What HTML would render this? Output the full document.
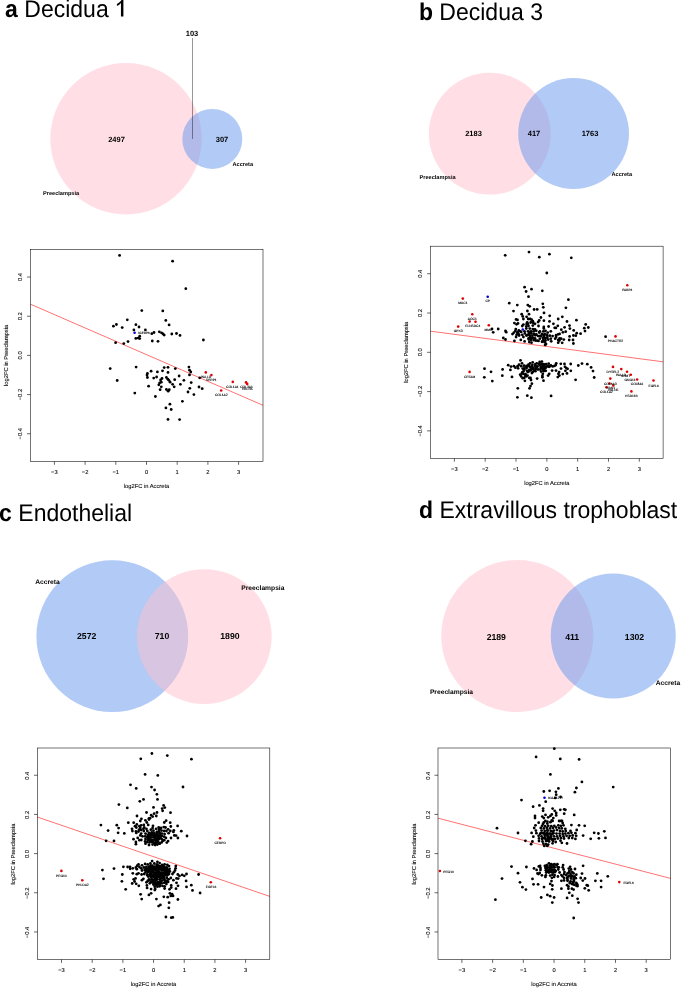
<!DOCTYPE html><html><head><meta charset="utf-8"><title>figure</title><style>
html,body{margin:0;padding:0;background:#fff}
svg{display:block;will-change:transform}
text{font-family:"Liberation Sans",sans-serif;fill:#000;text-rendering:geometricPrecision}
.t{font-size:23px}.tb{font-weight:bold}
.n{font-size:7.5px;font-weight:bold;text-anchor:middle}
.s{font-size:5.6px;font-weight:bold}.s2{font-size:6.7px;font-weight:bold}.n2{font-size:8.7px;font-weight:bold;text-anchor:middle}
.ax{font-size:5.75px;text-anchor:middle;stroke:#000;stroke-width:0.08px}
.g{font-size:3.3px;text-anchor:middle;stroke:#000;stroke-width:0.1px}
.fr{fill:none;stroke:#000;stroke-width:0.55}
.tk{stroke:#000;stroke-width:0.6}
.rl{stroke:#ff0000;stroke-width:0.56}
</style></head><body>
<svg width="685" height="995" viewBox="0 0 685 995">
<rect width="685" height="995" fill="#fff"/>
<text class="t" transform="translate(5.1,16.5) scale(1,1.045)"><tspan class="tb">a</tspan> Decidua</text>
<path d="M120.95,16.5 H123.4 V-1 H122 C121.3,1 118.8,3.2 116.9,3.9 V5.8 C118.5,5.3 120.2,4.0 120.95,2.9 Z" fill="#000"/>
<text class="t" transform="translate(418.9,19.9) scale(1,1.045)"><tspan class="tb">b</tspan> Decidua 3</text>
<text class="t" transform="translate(-0.9,520.8) scale(1,1.045)"><tspan class="tb">c</tspan> Endothelial</text>
<text class="t" transform="translate(419.0,517.6) scale(1,1.045)"><tspan class="tb">d</tspan> Extravillous trophoblast</text>
<circle cx="126" cy="138.8" r="75.7" fill="#ffc0cb" fill-opacity="0.5"/>
<circle cx="212.3" cy="138.9" r="30" fill="#6495ed" fill-opacity="0.5"/>
<line x1="192.5" y1="38" x2="192.5" y2="138.9" stroke="#000" stroke-opacity="0.75" stroke-width="0.55"/>
<text class="n" x="192" y="35.5">103</text>
<text class="n" x="116.5" y="141.5">2497</text>
<text class="n" x="222" y="141.5">307</text>
<text class="s" x="43" y="195.3">Preeclampsia</text>
<text class="s" x="232.5" y="166.2">Accreta</text>
<circle cx="489.75" cy="133.7" r="60.9" fill="#ffc0cb" fill-opacity="0.5"/>
<circle cx="573.6" cy="133.5" r="55.4" fill="#6495ed" fill-opacity="0.5"/>
<text class="n" x="473.5" y="136">2183</text>
<text class="n" x="534" y="136">417</text>
<text class="n" x="590" y="136">1763</text>
<text class="s" x="419.5" y="179">Preeclampsia</text>
<text class="s" x="611.5" y="176">Accreta</text>
<circle cx="112.3" cy="636.2" r="75.9" fill="#6495ed" fill-opacity="0.5"/>
<circle cx="204.3" cy="636.6" r="67.4" fill="#ffc0cb" fill-opacity="0.5"/>
<text class="n2" x="86.7" y="639.0">2572</text>
<text class="n2" x="162" y="639.0">710</text>
<text class="n2" x="229.9" y="639.0">1890</text>
<text class="s2" x="35.2" y="584.2">Accreta</text>
<text class="s2" x="241.3" y="589.5">Preeclampsia</text>
<circle cx="517.25" cy="636" r="76" fill="#ffc0cb" fill-opacity="0.5"/>
<circle cx="613.25" cy="636" r="62.5" fill="#6495ed" fill-opacity="0.5"/>
<text class="n2" x="496.3" y="639.6">2189</text>
<text class="n2" x="572.2" y="639.6">411</text>
<text class="n2" x="634.5" y="639.6">1302</text>
<text class="s2" x="429.9" y="694.2">Preeclampsia</text>
<text class="s2" x="655.7" y="685.1">Accreta</text>
<g id="plot-a">
<line class="rl" x1="30.50" y1="304.20" x2="263.00" y2="405.30"/>
<circle cx="119.6" cy="255.4" r="1.4" fill="#000"/>
<circle cx="172.6" cy="261.2" r="1.4" fill="#000"/>
<circle cx="185.8" cy="288.7" r="1.4" fill="#000"/>
<circle cx="141.8" cy="310.6" r="1.4" fill="#000"/>
<circle cx="162.8" cy="310.9" r="1.4" fill="#000"/>
<circle cx="127.3" cy="319.8" r="1.4" fill="#000"/>
<circle cx="165.8" cy="320.4" r="1.4" fill="#000"/>
<circle cx="116.4" cy="324.5" r="1.4" fill="#000"/>
<circle cx="135.9" cy="324.7" r="1.4" fill="#000"/>
<circle cx="169.1" cy="324.9" r="1.4" fill="#000"/>
<circle cx="113.4" cy="326.2" r="1.4" fill="#000"/>
<circle cx="139.0" cy="327.0" r="1.4" fill="#000"/>
<circle cx="122.2" cy="327.6" r="1.4" fill="#000"/>
<circle cx="133.9" cy="329.9" r="1.4" fill="#000"/>
<circle cx="145.4" cy="329.9" r="1.4" fill="#000"/>
<circle cx="159.3" cy="331.8" r="1.4" fill="#000"/>
<circle cx="161.5" cy="332.8" r="1.4" fill="#000"/>
<circle cx="154.0" cy="332.5" r="1.4" fill="#000"/>
<circle cx="151.8" cy="333.7" r="1.4" fill="#000"/>
<circle cx="163.1" cy="334.0" r="1.4" fill="#000"/>
<circle cx="164.2" cy="335.1" r="1.4" fill="#000"/>
<circle cx="171.8" cy="334.0" r="1.4" fill="#000"/>
<circle cx="176.5" cy="333.5" r="1.4" fill="#000"/>
<circle cx="180.0" cy="335.4" r="1.4" fill="#000"/>
<circle cx="139.7" cy="336.2" r="1.4" fill="#000"/>
<circle cx="135.8" cy="338.4" r="1.4" fill="#000"/>
<circle cx="138.2" cy="338.1" r="1.4" fill="#000"/>
<circle cx="139.7" cy="338.6" r="1.4" fill="#000"/>
<circle cx="152.3" cy="341.0" r="1.4" fill="#000"/>
<circle cx="158.0" cy="341.3" r="1.4" fill="#000"/>
<circle cx="128.0" cy="341.6" r="1.4" fill="#000"/>
<circle cx="115.6" cy="342.7" r="1.4" fill="#000"/>
<circle cx="123.8" cy="343.6" r="1.4" fill="#000"/>
<circle cx="110.2" cy="368.6" r="1.4" fill="#000"/>
<circle cx="136.1" cy="367.1" r="1.4" fill="#000"/>
<circle cx="117.2" cy="380.5" r="1.4" fill="#000"/>
<circle cx="164.2" cy="367.6" r="1.4" fill="#000"/>
<circle cx="168.0" cy="367.3" r="1.4" fill="#000"/>
<circle cx="175.3" cy="368.6" r="1.4" fill="#000"/>
<circle cx="188.9" cy="367.1" r="1.4" fill="#000"/>
<circle cx="189.5" cy="370.2" r="1.4" fill="#000"/>
<circle cx="190.8" cy="371.9" r="1.4" fill="#000"/>
<circle cx="189.5" cy="374.9" r="1.4" fill="#000"/>
<circle cx="151.1" cy="371.2" r="1.4" fill="#000"/>
<circle cx="157.4" cy="371.9" r="1.4" fill="#000"/>
<circle cx="162.5" cy="370.8" r="1.4" fill="#000"/>
<circle cx="168.0" cy="372.4" r="1.4" fill="#000"/>
<circle cx="147.4" cy="373.4" r="1.4" fill="#000"/>
<circle cx="147.0" cy="375.1" r="1.4" fill="#000"/>
<circle cx="147.4" cy="377.5" r="1.4" fill="#000"/>
<circle cx="153.7" cy="378.1" r="1.4" fill="#000"/>
<circle cx="156.6" cy="377.0" r="1.4" fill="#000"/>
<circle cx="162.0" cy="378.5" r="1.4" fill="#000"/>
<circle cx="160.6" cy="380.0" r="1.4" fill="#000"/>
<circle cx="166.4" cy="377.5" r="1.4" fill="#000"/>
<circle cx="167.9" cy="379.2" r="1.4" fill="#000"/>
<circle cx="168.9" cy="380.3" r="1.4" fill="#000"/>
<circle cx="174.7" cy="379.7" r="1.4" fill="#000"/>
<circle cx="179.1" cy="376.0" r="1.4" fill="#000"/>
<circle cx="183.9" cy="380.3" r="1.4" fill="#000"/>
<circle cx="170.1" cy="382.2" r="1.4" fill="#000"/>
<circle cx="161.3" cy="382.2" r="1.4" fill="#000"/>
<circle cx="159.6" cy="382.9" r="1.4" fill="#000"/>
<circle cx="158.8" cy="384.8" r="1.4" fill="#000"/>
<circle cx="172.6" cy="384.3" r="1.4" fill="#000"/>
<circle cx="180.4" cy="384.3" r="1.4" fill="#000"/>
<circle cx="191.2" cy="382.6" r="1.4" fill="#000"/>
<circle cx="148.6" cy="386.2" r="1.4" fill="#000"/>
<circle cx="161.3" cy="386.8" r="1.4" fill="#000"/>
<circle cx="174.2" cy="386.8" r="1.4" fill="#000"/>
<circle cx="189.8" cy="388.3" r="1.4" fill="#000"/>
<circle cx="199.0" cy="387.0" r="1.4" fill="#000"/>
<circle cx="199.7" cy="377.8" r="1.4" fill="#000"/>
<circle cx="166.4" cy="389.5" r="1.4" fill="#000"/>
<circle cx="169.3" cy="389.7" r="1.4" fill="#000"/>
<circle cx="160.1" cy="389.7" r="1.4" fill="#000"/>
<circle cx="203.4" cy="340.0" r="1.4" fill="#000"/>
<circle cx="202.2" cy="388.7" r="1.4" fill="#000"/>
<circle cx="168.2" cy="391.2" r="1.4" fill="#000"/>
<circle cx="188.0" cy="392.0" r="1.4" fill="#000"/>
<circle cx="134.8" cy="393.1" r="1.4" fill="#000"/>
<circle cx="193.9" cy="394.6" r="1.4" fill="#000"/>
<circle cx="155.4" cy="396.5" r="1.4" fill="#000"/>
<circle cx="182.4" cy="401.3" r="1.4" fill="#000"/>
<circle cx="169.9" cy="404.2" r="1.4" fill="#000"/>
<circle cx="165.9" cy="407.9" r="1.4" fill="#000"/>
<circle cx="171.2" cy="409.5" r="1.4" fill="#000"/>
<circle cx="168.0" cy="419.4" r="1.4" fill="#000"/>
<circle cx="179.6" cy="419.6" r="1.4" fill="#000"/>
<circle cx="134.6" cy="332.8" r="1.3" fill="#0000d0"/>
<circle cx="205.8" cy="372.4" r="1.3" fill="#e00000"/>
<circle cx="211.4" cy="375.1" r="1.3" fill="#e00000"/>
<circle cx="232.8" cy="381.9" r="1.3" fill="#e00000"/>
<circle cx="246.0" cy="382.4" r="1.3" fill="#e00000"/>
<circle cx="247.2" cy="383.9" r="1.3" fill="#e00000"/>
<circle cx="221.2" cy="390.5" r="1.3" fill="#e00000"/>
<text class="g" x="138.2" y="334.3" style="text-anchor:start">IGFBP6</text>
<text class="g" x="206.0" y="378.2">PALLD</text>
<text class="g" x="211.4" y="380.7">SFRP1</text>
<text class="g" x="232.4" y="388.0">COL1A1</text>
<text class="g" x="246.5" y="388.4">COL3A1</text>
<text class="g" x="247.5" y="389.9">FBLN5</text>
<text class="g" x="221.3" y="396.2">COL1A2</text>
<rect class="fr" x="30.50" y="249.50" width="232.50" height="212.00"/>
<line class="tk" x1="54.40" y1="461.50" x2="54.40" y2="464.80"/>
<text class="ax" x="54.40" y="474.10">−3</text>
<line class="tk" x1="85.10" y1="461.50" x2="85.10" y2="464.80"/>
<text class="ax" x="85.10" y="474.10">−2</text>
<line class="tk" x1="115.80" y1="461.50" x2="115.80" y2="464.80"/>
<text class="ax" x="115.80" y="474.10">−1</text>
<line class="tk" x1="146.50" y1="461.50" x2="146.50" y2="464.80"/>
<text class="ax" x="146.50" y="474.10">0</text>
<line class="tk" x1="177.20" y1="461.50" x2="177.20" y2="464.80"/>
<text class="ax" x="177.20" y="474.10">1</text>
<line class="tk" x1="207.90" y1="461.50" x2="207.90" y2="464.80"/>
<text class="ax" x="207.90" y="474.10">2</text>
<line class="tk" x1="238.60" y1="461.50" x2="238.60" y2="464.80"/>
<text class="ax" x="238.60" y="474.10">3</text>
<line class="tk" x1="30.50" y1="433.76" x2="27.00" y2="433.76"/>
<text class="ax" transform="translate(22.10,433.76) rotate(-90)">−0.4</text>
<line class="tk" x1="30.50" y1="394.58" x2="27.00" y2="394.58"/>
<text class="ax" transform="translate(22.10,394.58) rotate(-90)">−0.2</text>
<line class="tk" x1="30.50" y1="355.40" x2="27.00" y2="355.40"/>
<text class="ax" transform="translate(22.10,355.40) rotate(-90)">0.0</text>
<line class="tk" x1="30.50" y1="316.22" x2="27.00" y2="316.22"/>
<text class="ax" transform="translate(22.10,316.22) rotate(-90)">0.2</text>
<line class="tk" x1="30.50" y1="277.04" x2="27.00" y2="277.04"/>
<text class="ax" transform="translate(22.10,277.04) rotate(-90)">0.4</text>
<text class="ax" x="146.50" y="488.00">log2FC in Accreta</text>
<text class="ax" transform="translate(8.00,355.40) rotate(-90)">log2FC in Preeclampsia</text>
</g>
<g id="plot-b">
<line class="rl" x1="430.60" y1="331.20" x2="663.10" y2="361.80"/>
<circle cx="528.4" cy="364.7" r="1.4" fill="#000"/>
<circle cx="535.1" cy="364.4" r="1.4" fill="#000"/>
<circle cx="538.9" cy="364.1" r="1.4" fill="#000"/>
<circle cx="548.7" cy="363.6" r="1.4" fill="#000"/>
<circle cx="524.0" cy="365.7" r="1.4" fill="#000"/>
<circle cx="526.5" cy="366.0" r="1.4" fill="#000"/>
<circle cx="529.3" cy="365.7" r="1.4" fill="#000"/>
<circle cx="532.0" cy="366.7" r="1.4" fill="#000"/>
<circle cx="536.6" cy="366.4" r="1.4" fill="#000"/>
<circle cx="546.7" cy="366.6" r="1.4" fill="#000"/>
<circle cx="548.4" cy="366.3" r="1.4" fill="#000"/>
<circle cx="550.0" cy="366.0" r="1.4" fill="#000"/>
<circle cx="531.5" cy="368.3" r="1.4" fill="#000"/>
<circle cx="533.1" cy="368.3" r="1.4" fill="#000"/>
<circle cx="536.6" cy="367.5" r="1.4" fill="#000"/>
<circle cx="541.6" cy="367.4" r="1.4" fill="#000"/>
<circle cx="545.6" cy="368.0" r="1.4" fill="#000"/>
<circle cx="533.6" cy="369.4" r="1.4" fill="#000"/>
<circle cx="540.4" cy="369.7" r="1.4" fill="#000"/>
<circle cx="544.3" cy="368.8" r="1.4" fill="#000"/>
<circle cx="539.2" cy="332.5" r="1.4" fill="#000"/>
<circle cx="530.1" cy="333.0" r="1.4" fill="#000"/>
<circle cx="536.4" cy="334.4" r="1.4" fill="#000"/>
<circle cx="544.2" cy="335.2" r="1.4" fill="#000"/>
<circle cx="547.4" cy="335.9" r="1.4" fill="#000"/>
<circle cx="527.8" cy="335.0" r="1.4" fill="#000"/>
<circle cx="535.7" cy="335.1" r="1.4" fill="#000"/>
<circle cx="538.1" cy="336.1" r="1.4" fill="#000"/>
<circle cx="540.2" cy="335.9" r="1.4" fill="#000"/>
<circle cx="544.4" cy="337.5" r="1.4" fill="#000"/>
<circle cx="530.3" cy="337.9" r="1.4" fill="#000"/>
<circle cx="531.6" cy="337.8" r="1.4" fill="#000"/>
<circle cx="537.2" cy="340.7" r="1.4" fill="#000"/>
<circle cx="542.5" cy="341.2" r="1.4" fill="#000"/>
<circle cx="505.2" cy="255.3" r="1.4" fill="#000"/>
<circle cx="529.0" cy="252.1" r="1.4" fill="#000"/>
<circle cx="524.6" cy="287.2" r="1.4" fill="#000"/>
<circle cx="526.1" cy="291.5" r="1.4" fill="#000"/>
<circle cx="528.5" cy="296.7" r="1.4" fill="#000"/>
<circle cx="509.3" cy="303.2" r="1.4" fill="#000"/>
<circle cx="517.3" cy="305.1" r="1.4" fill="#000"/>
<circle cx="527.8" cy="305.1" r="1.4" fill="#000"/>
<circle cx="513.5" cy="311.1" r="1.4" fill="#000"/>
<circle cx="527.4" cy="311.0" r="1.4" fill="#000"/>
<circle cx="521.7" cy="314.2" r="1.4" fill="#000"/>
<circle cx="529.0" cy="314.2" r="1.4" fill="#000"/>
<circle cx="522.7" cy="316.4" r="1.4" fill="#000"/>
<circle cx="526.6" cy="316.8" r="1.4" fill="#000"/>
<circle cx="516.1" cy="319.4" r="1.4" fill="#000"/>
<circle cx="523.4" cy="319.0" r="1.4" fill="#000"/>
<circle cx="539.3" cy="257.2" r="1.4" fill="#000"/>
<circle cx="549.4" cy="254.2" r="1.4" fill="#000"/>
<circle cx="571.3" cy="257.8" r="1.4" fill="#000"/>
<circle cx="546.8" cy="273.0" r="1.4" fill="#000"/>
<circle cx="531.5" cy="289.2" r="1.4" fill="#000"/>
<circle cx="542.3" cy="290.8" r="1.4" fill="#000"/>
<circle cx="568.4" cy="299.7" r="1.4" fill="#000"/>
<circle cx="529.7" cy="306.3" r="1.4" fill="#000"/>
<circle cx="542.8" cy="303.8" r="1.4" fill="#000"/>
<circle cx="543.3" cy="307.3" r="1.4" fill="#000"/>
<circle cx="565.9" cy="307.8" r="1.4" fill="#000"/>
<circle cx="534.1" cy="309.5" r="1.4" fill="#000"/>
<circle cx="537.2" cy="309.4" r="1.4" fill="#000"/>
<circle cx="544.0" cy="312.9" r="1.4" fill="#000"/>
<circle cx="549.7" cy="315.8" r="1.4" fill="#000"/>
<circle cx="562.3" cy="316.8" r="1.4" fill="#000"/>
<circle cx="540.9" cy="317.5" r="1.4" fill="#000"/>
<circle cx="558.2" cy="319.0" r="1.4" fill="#000"/>
<circle cx="576.4" cy="320.2" r="1.4" fill="#000"/>
<circle cx="528.2" cy="319.0" r="1.4" fill="#000"/>
<circle cx="531.6" cy="319.7" r="1.4" fill="#000"/>
<circle cx="539.2" cy="320.5" r="1.4" fill="#000"/>
<circle cx="543.9" cy="320.7" r="1.4" fill="#000"/>
<circle cx="514.4" cy="323.1" r="1.4" fill="#000"/>
<circle cx="518.0" cy="323.4" r="1.4" fill="#000"/>
<circle cx="523.4" cy="324.6" r="1.4" fill="#000"/>
<circle cx="526.6" cy="323.9" r="1.4" fill="#000"/>
<circle cx="492.0" cy="329.0" r="1.4" fill="#000"/>
<circle cx="493.2" cy="332.3" r="1.4" fill="#000"/>
<circle cx="498.2" cy="329.0" r="1.4" fill="#000"/>
<circle cx="505.5" cy="330.9" r="1.4" fill="#000"/>
<circle cx="506.2" cy="332.2" r="1.4" fill="#000"/>
<circle cx="513.9" cy="332.6" r="1.4" fill="#000"/>
<circle cx="512.5" cy="334.1" r="1.4" fill="#000"/>
<circle cx="515.4" cy="330.9" r="1.4" fill="#000"/>
<circle cx="517.6" cy="333.4" r="1.4" fill="#000"/>
<circle cx="519.1" cy="335.5" r="1.4" fill="#000"/>
<circle cx="516.1" cy="337.0" r="1.4" fill="#000"/>
<circle cx="521.2" cy="331.9" r="1.4" fill="#000"/>
<circle cx="524.9" cy="333.4" r="1.4" fill="#000"/>
<circle cx="526.4" cy="335.5" r="1.4" fill="#000"/>
<circle cx="529.3" cy="331.9" r="1.4" fill="#000"/>
<circle cx="523.4" cy="337.0" r="1.4" fill="#000"/>
<circle cx="503.3" cy="338.0" r="1.4" fill="#000"/>
<circle cx="505.5" cy="339.5" r="1.4" fill="#000"/>
<circle cx="514.4" cy="340.9" r="1.4" fill="#000"/>
<circle cx="520.8" cy="339.9" r="1.4" fill="#000"/>
<circle cx="524.6" cy="341.4" r="1.4" fill="#000"/>
<circle cx="528.5" cy="338.5" r="1.4" fill="#000"/>
<circle cx="529.3" cy="342.1" r="1.4" fill="#000"/>
<circle cx="484.5" cy="368.7" r="1.4" fill="#000"/>
<circle cx="491.0" cy="371.8" r="1.4" fill="#000"/>
<circle cx="484.3" cy="377.3" r="1.4" fill="#000"/>
<circle cx="492.3" cy="381.1" r="1.4" fill="#000"/>
<circle cx="502.6" cy="369.4" r="1.4" fill="#000"/>
<circle cx="502.3" cy="375.7" r="1.4" fill="#000"/>
<circle cx="508.2" cy="365.2" r="1.4" fill="#000"/>
<circle cx="510.4" cy="369.9" r="1.4" fill="#000"/>
<circle cx="512.0" cy="376.9" r="1.4" fill="#000"/>
<circle cx="513.9" cy="366.2" r="1.4" fill="#000"/>
<circle cx="515.4" cy="367.7" r="1.4" fill="#000"/>
<circle cx="517.6" cy="366.2" r="1.4" fill="#000"/>
<circle cx="519.1" cy="364.7" r="1.4" fill="#000"/>
<circle cx="520.5" cy="360.4" r="1.4" fill="#000"/>
<circle cx="522.0" cy="363.3" r="1.4" fill="#000"/>
<circle cx="521.2" cy="366.2" r="1.4" fill="#000"/>
<circle cx="524.2" cy="368.4" r="1.4" fill="#000"/>
<circle cx="526.4" cy="366.9" r="1.4" fill="#000"/>
<circle cx="528.5" cy="366.2" r="1.4" fill="#000"/>
<circle cx="523.4" cy="371.3" r="1.4" fill="#000"/>
<circle cx="522.0" cy="373.5" r="1.4" fill="#000"/>
<circle cx="525.6" cy="374.2" r="1.4" fill="#000"/>
<circle cx="527.8" cy="372.0" r="1.4" fill="#000"/>
<circle cx="521.2" cy="376.4" r="1.4" fill="#000"/>
<circle cx="524.2" cy="377.9" r="1.4" fill="#000"/>
<circle cx="526.4" cy="376.4" r="1.4" fill="#000"/>
<circle cx="529.3" cy="377.9" r="1.4" fill="#000"/>
<circle cx="524.9" cy="380.8" r="1.4" fill="#000"/>
<circle cx="529.3" cy="369.9" r="1.4" fill="#000"/>
<circle cx="517.5" cy="319.9" r="1.4" fill="#000"/>
<circle cx="530.2" cy="319.0" r="1.4" fill="#000"/>
<circle cx="532.8" cy="321.2" r="1.4" fill="#000"/>
<circle cx="549.5" cy="321.4" r="1.4" fill="#000"/>
<circle cx="516.6" cy="324.3" r="1.4" fill="#000"/>
<circle cx="527.2" cy="322.5" r="1.4" fill="#000"/>
<circle cx="528.0" cy="323.8" r="1.4" fill="#000"/>
<circle cx="530.7" cy="322.5" r="1.4" fill="#000"/>
<circle cx="533.3" cy="323.0" r="1.4" fill="#000"/>
<circle cx="535.0" cy="323.8" r="1.4" fill="#000"/>
<circle cx="538.1" cy="322.1" r="1.4" fill="#000"/>
<circle cx="553.4" cy="323.8" r="1.4" fill="#000"/>
<circle cx="522.3" cy="326.0" r="1.4" fill="#000"/>
<circle cx="526.3" cy="326.5" r="1.4" fill="#000"/>
<circle cx="528.5" cy="326.0" r="1.4" fill="#000"/>
<circle cx="532.8" cy="325.6" r="1.4" fill="#000"/>
<circle cx="538.5" cy="326.0" r="1.4" fill="#000"/>
<circle cx="543.8" cy="326.9" r="1.4" fill="#000"/>
<circle cx="548.6" cy="326.5" r="1.4" fill="#000"/>
<circle cx="557.8" cy="325.8" r="1.4" fill="#000"/>
<circle cx="554.7" cy="327.8" r="1.4" fill="#000"/>
<circle cx="515.8" cy="329.1" r="1.4" fill="#000"/>
<circle cx="518.8" cy="330.4" r="1.4" fill="#000"/>
<circle cx="526.3" cy="328.6" r="1.4" fill="#000"/>
<circle cx="529.8" cy="328.6" r="1.4" fill="#000"/>
<circle cx="532.8" cy="329.1" r="1.4" fill="#000"/>
<circle cx="535.0" cy="329.5" r="1.4" fill="#000"/>
<circle cx="543.8" cy="328.6" r="1.4" fill="#000"/>
<circle cx="517.5" cy="332.2" r="1.4" fill="#000"/>
<circle cx="520.1" cy="331.3" r="1.4" fill="#000"/>
<circle cx="524.5" cy="331.3" r="1.4" fill="#000"/>
<circle cx="528.0" cy="331.3" r="1.4" fill="#000"/>
<circle cx="531.1" cy="331.3" r="1.4" fill="#000"/>
<circle cx="533.7" cy="331.3" r="1.4" fill="#000"/>
<circle cx="536.3" cy="330.8" r="1.4" fill="#000"/>
<circle cx="539.9" cy="331.3" r="1.4" fill="#000"/>
<circle cx="543.4" cy="331.3" r="1.4" fill="#000"/>
<circle cx="545.5" cy="330.8" r="1.4" fill="#000"/>
<circle cx="547.7" cy="332.6" r="1.4" fill="#000"/>
<circle cx="550.8" cy="331.3" r="1.4" fill="#000"/>
<circle cx="516.6" cy="334.8" r="1.4" fill="#000"/>
<circle cx="518.8" cy="334.3" r="1.4" fill="#000"/>
<circle cx="522.3" cy="334.8" r="1.4" fill="#000"/>
<circle cx="528.9" cy="333.9" r="1.4" fill="#000"/>
<circle cx="531.5" cy="333.5" r="1.4" fill="#000"/>
<circle cx="534.2" cy="333.9" r="1.4" fill="#000"/>
<circle cx="529.8" cy="335.7" r="1.4" fill="#000"/>
<circle cx="532.4" cy="335.7" r="1.4" fill="#000"/>
<circle cx="535.0" cy="335.2" r="1.4" fill="#000"/>
<circle cx="542.0" cy="333.9" r="1.4" fill="#000"/>
<circle cx="544.7" cy="333.9" r="1.4" fill="#000"/>
<circle cx="546.9" cy="334.8" r="1.4" fill="#000"/>
<circle cx="543.8" cy="335.7" r="1.4" fill="#000"/>
<circle cx="541.2" cy="336.1" r="1.4" fill="#000"/>
<circle cx="549.9" cy="335.7" r="1.4" fill="#000"/>
<circle cx="552.6" cy="336.1" r="1.4" fill="#000"/>
<circle cx="556.1" cy="335.2" r="1.4" fill="#000"/>
<circle cx="558.2" cy="334.3" r="1.4" fill="#000"/>
<circle cx="559.6" cy="333.9" r="1.4" fill="#000"/>
<circle cx="530.2" cy="337.4" r="1.4" fill="#000"/>
<circle cx="532.8" cy="337.8" r="1.4" fill="#000"/>
<circle cx="535.0" cy="338.3" r="1.4" fill="#000"/>
<circle cx="528.9" cy="339.6" r="1.4" fill="#000"/>
<circle cx="531.1" cy="340.0" r="1.4" fill="#000"/>
<circle cx="533.7" cy="340.0" r="1.4" fill="#000"/>
<circle cx="535.5" cy="340.5" r="1.4" fill="#000"/>
<circle cx="531.5" cy="342.7" r="1.4" fill="#000"/>
<circle cx="538.5" cy="340.9" r="1.4" fill="#000"/>
<circle cx="539.9" cy="338.7" r="1.4" fill="#000"/>
<circle cx="542.9" cy="337.8" r="1.4" fill="#000"/>
<circle cx="545.1" cy="338.3" r="1.4" fill="#000"/>
<circle cx="547.3" cy="337.8" r="1.4" fill="#000"/>
<circle cx="543.4" cy="340.0" r="1.4" fill="#000"/>
<circle cx="545.5" cy="340.5" r="1.4" fill="#000"/>
<circle cx="548.2" cy="339.6" r="1.4" fill="#000"/>
<circle cx="550.8" cy="338.7" r="1.4" fill="#000"/>
<circle cx="551.2" cy="341.3" r="1.4" fill="#000"/>
<circle cx="544.7" cy="342.2" r="1.4" fill="#000"/>
<circle cx="546.0" cy="344.0" r="1.4" fill="#000"/>
<circle cx="545.1" cy="344.9" r="1.4" fill="#000"/>
<circle cx="542.0" cy="341.8" r="1.4" fill="#000"/>
<circle cx="555.2" cy="338.7" r="1.4" fill="#000"/>
<circle cx="558.2" cy="340.0" r="1.4" fill="#000"/>
<circle cx="559.6" cy="338.3" r="1.4" fill="#000"/>
<circle cx="558.2" cy="342.7" r="1.4" fill="#000"/>
<circle cx="556.1" cy="337.0" r="1.4" fill="#000"/>
<circle cx="567.0" cy="321.5" r="1.4" fill="#000"/>
<circle cx="569.5" cy="325.6" r="1.4" fill="#000"/>
<circle cx="585.7" cy="324.4" r="1.4" fill="#000"/>
<circle cx="555.9" cy="327.9" r="1.4" fill="#000"/>
<circle cx="564.6" cy="327.3" r="1.4" fill="#000"/>
<circle cx="569.9" cy="328.6" r="1.4" fill="#000"/>
<circle cx="584.3" cy="328.2" r="1.4" fill="#000"/>
<circle cx="588.3" cy="327.5" r="1.4" fill="#000"/>
<circle cx="561.3" cy="329.7" r="1.4" fill="#000"/>
<circle cx="573.7" cy="330.4" r="1.4" fill="#000"/>
<circle cx="585.0" cy="331.1" r="1.4" fill="#000"/>
<circle cx="562.9" cy="332.3" r="1.4" fill="#000"/>
<circle cx="565.7" cy="331.7" r="1.4" fill="#000"/>
<circle cx="576.7" cy="333.2" r="1.4" fill="#000"/>
<circle cx="580.6" cy="333.7" r="1.4" fill="#000"/>
<circle cx="573.4" cy="335.5" r="1.4" fill="#000"/>
<circle cx="575.8" cy="335.7" r="1.4" fill="#000"/>
<circle cx="569.6" cy="336.4" r="1.4" fill="#000"/>
<circle cx="561.1" cy="338.7" r="1.4" fill="#000"/>
<circle cx="563.8" cy="339.6" r="1.4" fill="#000"/>
<circle cx="569.2" cy="340.0" r="1.4" fill="#000"/>
<circle cx="573.0" cy="340.0" r="1.4" fill="#000"/>
<circle cx="559.4" cy="340.5" r="1.4" fill="#000"/>
<circle cx="562.2" cy="342.8" r="1.4" fill="#000"/>
<circle cx="573.4" cy="343.5" r="1.4" fill="#000"/>
<circle cx="605.6" cy="336.7" r="1.4" fill="#000"/>
<circle cx="591.1" cy="367.4" r="1.4" fill="#000"/>
<circle cx="593.0" cy="371.1" r="1.4" fill="#000"/>
<circle cx="594.2" cy="377.5" r="1.4" fill="#000"/>
<circle cx="511.0" cy="366.6" r="1.4" fill="#000"/>
<circle cx="518.1" cy="368.3" r="1.4" fill="#000"/>
<circle cx="520.2" cy="374.7" r="1.4" fill="#000"/>
<circle cx="522.2" cy="372.5" r="1.4" fill="#000"/>
<circle cx="523.5" cy="373.8" r="1.4" fill="#000"/>
<circle cx="522.7" cy="378.2" r="1.4" fill="#000"/>
<circle cx="525.3" cy="376.0" r="1.4" fill="#000"/>
<circle cx="527.5" cy="375.6" r="1.4" fill="#000"/>
<circle cx="530.5" cy="377.9" r="1.4" fill="#000"/>
<circle cx="531.0" cy="380.0" r="1.4" fill="#000"/>
<circle cx="531.9" cy="383.7" r="1.4" fill="#000"/>
<circle cx="530.5" cy="386.1" r="1.4" fill="#000"/>
<circle cx="529.5" cy="388.3" r="1.4" fill="#000"/>
<circle cx="517.8" cy="388.3" r="1.4" fill="#000"/>
<circle cx="517.4" cy="397.3" r="1.4" fill="#000"/>
<circle cx="527.3" cy="395.7" r="1.4" fill="#000"/>
<circle cx="531.4" cy="397.7" r="1.4" fill="#000"/>
<circle cx="537.1" cy="378.6" r="1.4" fill="#000"/>
<circle cx="542.4" cy="377.3" r="1.4" fill="#000"/>
<circle cx="543.5" cy="380.7" r="1.4" fill="#000"/>
<circle cx="522.7" cy="368.6" r="1.4" fill="#000"/>
<circle cx="524.4" cy="369.5" r="1.4" fill="#000"/>
<circle cx="526.6" cy="368.1" r="1.4" fill="#000"/>
<circle cx="527.0" cy="370.8" r="1.4" fill="#000"/>
<circle cx="529.2" cy="371.2" r="1.4" fill="#000"/>
<circle cx="530.1" cy="363.3" r="1.4" fill="#000"/>
<circle cx="530.5" cy="367.3" r="1.4" fill="#000"/>
<circle cx="531.0" cy="369.9" r="1.4" fill="#000"/>
<circle cx="531.9" cy="373.0" r="1.4" fill="#000"/>
<circle cx="532.3" cy="365.1" r="1.4" fill="#000"/>
<circle cx="532.7" cy="362.4" r="1.4" fill="#000"/>
<circle cx="533.2" cy="368.1" r="1.4" fill="#000"/>
<circle cx="534.0" cy="370.8" r="1.4" fill="#000"/>
<circle cx="534.9" cy="366.4" r="1.4" fill="#000"/>
<circle cx="535.8" cy="369.0" r="1.4" fill="#000"/>
<circle cx="536.7" cy="363.3" r="1.4" fill="#000"/>
<circle cx="537.6" cy="366.4" r="1.4" fill="#000"/>
<circle cx="538.0" cy="369.5" r="1.4" fill="#000"/>
<circle cx="538.9" cy="363.8" r="1.4" fill="#000"/>
<circle cx="539.7" cy="362.0" r="1.4" fill="#000"/>
<circle cx="540.2" cy="365.5" r="1.4" fill="#000"/>
<circle cx="540.6" cy="368.1" r="1.4" fill="#000"/>
<circle cx="541.5" cy="363.8" r="1.4" fill="#000"/>
<circle cx="541.9" cy="361.6" r="1.4" fill="#000"/>
<circle cx="542.4" cy="366.4" r="1.4" fill="#000"/>
<circle cx="542.8" cy="369.0" r="1.4" fill="#000"/>
<circle cx="541.1" cy="371.6" r="1.4" fill="#000"/>
<circle cx="543.7" cy="364.2" r="1.4" fill="#000"/>
<circle cx="544.6" cy="367.3" r="1.4" fill="#000"/>
<circle cx="544.1" cy="370.3" r="1.4" fill="#000"/>
<circle cx="542.8" cy="373.8" r="1.4" fill="#000"/>
<circle cx="542.4" cy="376.0" r="1.4" fill="#000"/>
<circle cx="535.4" cy="371.2" r="1.4" fill="#000"/>
<circle cx="532.7" cy="372.1" r="1.4" fill="#000"/>
<circle cx="542.6" cy="364.6" r="1.4" fill="#000"/>
<circle cx="544.4" cy="365.9" r="1.4" fill="#000"/>
<circle cx="546.1" cy="364.2" r="1.4" fill="#000"/>
<circle cx="547.4" cy="365.9" r="1.4" fill="#000"/>
<circle cx="549.2" cy="366.8" r="1.4" fill="#000"/>
<circle cx="550.9" cy="365.5" r="1.4" fill="#000"/>
<circle cx="552.7" cy="366.4" r="1.4" fill="#000"/>
<circle cx="554.5" cy="365.9" r="1.4" fill="#000"/>
<circle cx="556.2" cy="363.3" r="1.4" fill="#000"/>
<circle cx="555.8" cy="365.1" r="1.4" fill="#000"/>
<circle cx="560.8" cy="363.8" r="1.4" fill="#000"/>
<circle cx="564.5" cy="364.0" r="1.4" fill="#000"/>
<circle cx="570.7" cy="364.0" r="1.4" fill="#000"/>
<circle cx="578.3" cy="365.5" r="1.4" fill="#000"/>
<circle cx="582.0" cy="363.6" r="1.4" fill="#000"/>
<circle cx="587.3" cy="364.2" r="1.4" fill="#000"/>
<circle cx="575.6" cy="379.8" r="1.4" fill="#000"/>
<circle cx="551.1" cy="395.9" r="1.4" fill="#000"/>
<circle cx="543.5" cy="371.2" r="1.4" fill="#000"/>
<circle cx="545.7" cy="370.8" r="1.4" fill="#000"/>
<circle cx="549.2" cy="373.8" r="1.4" fill="#000"/>
<circle cx="548.1" cy="375.6" r="1.4" fill="#000"/>
<circle cx="552.1" cy="370.6" r="1.4" fill="#000"/>
<circle cx="556.0" cy="370.6" r="1.4" fill="#000"/>
<circle cx="561.0" cy="368.6" r="1.4" fill="#000"/>
<circle cx="565.0" cy="366.8" r="1.4" fill="#000"/>
<circle cx="566.3" cy="368.1" r="1.4" fill="#000"/>
<circle cx="567.6" cy="368.8" r="1.4" fill="#000"/>
<circle cx="565.4" cy="370.8" r="1.4" fill="#000"/>
<circle cx="570.8" cy="370.8" r="1.4" fill="#000"/>
<circle cx="559.1" cy="372.1" r="1.4" fill="#000"/>
<circle cx="558.4" cy="373.8" r="1.4" fill="#000"/>
<circle cx="562.8" cy="374.1" r="1.4" fill="#000"/>
<circle cx="567.0" cy="373.4" r="1.4" fill="#000"/>
<circle cx="559.4" cy="375.6" r="1.4" fill="#000"/>
<circle cx="557.8" cy="377.1" r="1.4" fill="#000"/>
<circle cx="541.8" cy="367.3" r="1.4" fill="#000"/>
<circle cx="462.8" cy="298.6" r="1.3" fill="#e00000"/>
<circle cx="487.7" cy="296.7" r="1.3" fill="#0000d0"/>
<circle cx="472.3" cy="314.3" r="1.3" fill="#e00000"/>
<circle cx="469.7" cy="321.5" r="1.3" fill="#e00000"/>
<circle cx="475.5" cy="321.8" r="1.3" fill="#e00000"/>
<circle cx="458.2" cy="326.6" r="1.3" fill="#e00000"/>
<circle cx="488.8" cy="325.3" r="1.3" fill="#e00000"/>
<circle cx="469.6" cy="371.9" r="1.3" fill="#e00000"/>
<circle cx="522.8" cy="329.5" r="1.3" fill="#0000d0"/>
<circle cx="615.5" cy="336.4" r="1.3" fill="#e00000"/>
<circle cx="613.0" cy="366.9" r="1.3" fill="#e00000"/>
<circle cx="621.3" cy="369.1" r="1.3" fill="#e00000"/>
<circle cx="627.0" cy="371.7" r="1.3" fill="#e00000"/>
<circle cx="630.8" cy="374.7" r="1.3" fill="#e00000"/>
<circle cx="637.1" cy="379.5" r="1.3" fill="#e00000"/>
<circle cx="653.5" cy="380.5" r="1.3" fill="#e00000"/>
<circle cx="610.3" cy="378.6" r="1.3" fill="#e00000"/>
<circle cx="609.5" cy="383.5" r="1.3" fill="#e00000"/>
<circle cx="613.3" cy="385.5" r="1.3" fill="#e00000"/>
<circle cx="606.4" cy="387.3" r="1.3" fill="#e00000"/>
<circle cx="631.4" cy="391.4" r="1.3" fill="#e00000"/>
<circle cx="627.3" cy="285.2" r="1.3" fill="#e00000"/>
<text class="g" x="462.8" y="304.2">MUC1</text>
<text class="g" x="487.7" y="302.3">CP</text>
<text class="g" x="472.3" y="319.8">AOC1</text>
<text class="g" x="468.5" y="326.9">ELN</text>
<text class="g" x="475.9" y="326.9">SDC4</text>
<text class="g" x="458.2" y="332.3">GPX3</text>
<text class="g" x="488.4" y="330.8">MME</text>
<text class="g" x="469.6" y="377.6">CRTAM</text>
<text class="g" x="615.5" y="342.3">PHACTR2</text>
<text class="g" x="612.8" y="373.0">DYSFL2</text>
<text class="g" x="621.0" y="375.5">PALLD</text>
<text class="g" x="625.6" y="377.4">NNMT</text>
<text class="g" x="630.0" y="380.9">GNG11</text>
<text class="g" x="637.1" y="385.3">COL8A1</text>
<text class="g" x="653.7" y="386.8">EGFL6</text>
<text class="g" x="610.3" y="384.8">COL6A3</text>
<text class="g" x="610.8" y="388.8">FBN1</text>
<text class="g" x="613.3" y="391.0">FBLN5</text>
<text class="g" x="606.4" y="393.2">COL1A2</text>
<text class="g" x="631.4" y="397.3">HSD11B</text>
<text class="g" x="627.3" y="291.1">FABP4</text>
<rect class="fr" x="430.60" y="246.20" width="232.50" height="212.20"/>
<line class="tk" x1="454.39" y1="458.40" x2="454.39" y2="461.70"/>
<text class="ax" x="454.39" y="471.00">−3</text>
<line class="tk" x1="485.21" y1="458.40" x2="485.21" y2="461.70"/>
<text class="ax" x="485.21" y="471.00">−2</text>
<line class="tk" x1="516.03" y1="458.40" x2="516.03" y2="461.70"/>
<text class="ax" x="516.03" y="471.00">−1</text>
<line class="tk" x1="546.85" y1="458.40" x2="546.85" y2="461.70"/>
<text class="ax" x="546.85" y="471.00">0</text>
<line class="tk" x1="577.67" y1="458.40" x2="577.67" y2="461.70"/>
<text class="ax" x="577.67" y="471.00">1</text>
<line class="tk" x1="608.49" y1="458.40" x2="608.49" y2="461.70"/>
<text class="ax" x="608.49" y="471.00">2</text>
<line class="tk" x1="639.31" y1="458.40" x2="639.31" y2="461.70"/>
<text class="ax" x="639.31" y="471.00">3</text>
<line class="tk" x1="430.60" y1="430.86" x2="427.10" y2="430.86"/>
<text class="ax" transform="translate(422.20,430.86) rotate(-90)">−0.4</text>
<line class="tk" x1="430.60" y1="391.58" x2="427.10" y2="391.58"/>
<text class="ax" transform="translate(422.20,391.58) rotate(-90)">−0.2</text>
<line class="tk" x1="430.60" y1="352.30" x2="427.10" y2="352.30"/>
<text class="ax" transform="translate(422.20,352.30) rotate(-90)">0.0</text>
<line class="tk" x1="430.60" y1="313.02" x2="427.10" y2="313.02"/>
<text class="ax" transform="translate(422.20,313.02) rotate(-90)">0.2</text>
<line class="tk" x1="430.60" y1="273.74" x2="427.10" y2="273.74"/>
<text class="ax" transform="translate(422.20,273.74) rotate(-90)">0.4</text>
<text class="ax" x="546.85" y="484.90">log2FC in Accreta</text>
<text class="ax" transform="translate(408.10,352.30) rotate(-90)">log2FC in Preeclampsia</text>
</g>
<g id="plot-c">
<line class="rl" x1="37.50" y1="817.10" x2="269.80" y2="896.40"/>
<circle cx="151.7" cy="879.4" r="1.4" fill="#000"/>
<circle cx="160.0" cy="879.6" r="1.4" fill="#000"/>
<circle cx="162.9" cy="878.3" r="1.4" fill="#000"/>
<circle cx="164.1" cy="879.0" r="1.4" fill="#000"/>
<circle cx="149.5" cy="880.4" r="1.4" fill="#000"/>
<circle cx="153.0" cy="881.2" r="1.4" fill="#000"/>
<circle cx="155.1" cy="880.3" r="1.4" fill="#000"/>
<circle cx="156.2" cy="880.0" r="1.4" fill="#000"/>
<circle cx="160.8" cy="881.6" r="1.4" fill="#000"/>
<circle cx="166.3" cy="880.9" r="1.4" fill="#000"/>
<circle cx="167.3" cy="881.5" r="1.4" fill="#000"/>
<circle cx="149.8" cy="883.3" r="1.4" fill="#000"/>
<circle cx="151.1" cy="882.2" r="1.4" fill="#000"/>
<circle cx="152.8" cy="882.4" r="1.4" fill="#000"/>
<circle cx="154.9" cy="883.0" r="1.4" fill="#000"/>
<circle cx="157.6" cy="883.2" r="1.4" fill="#000"/>
<circle cx="159.8" cy="882.7" r="1.4" fill="#000"/>
<circle cx="165.2" cy="882.0" r="1.4" fill="#000"/>
<circle cx="155.0" cy="884.4" r="1.4" fill="#000"/>
<circle cx="156.0" cy="883.9" r="1.4" fill="#000"/>
<circle cx="159.7" cy="884.2" r="1.4" fill="#000"/>
<circle cx="150.6" cy="865.7" r="1.4" fill="#000"/>
<circle cx="152.3" cy="865.7" r="1.4" fill="#000"/>
<circle cx="156.7" cy="865.5" r="1.4" fill="#000"/>
<circle cx="157.9" cy="865.4" r="1.4" fill="#000"/>
<circle cx="159.5" cy="866.3" r="1.4" fill="#000"/>
<circle cx="162.0" cy="866.2" r="1.4" fill="#000"/>
<circle cx="163.1" cy="866.0" r="1.4" fill="#000"/>
<circle cx="148.9" cy="867.8" r="1.4" fill="#000"/>
<circle cx="150.4" cy="867.5" r="1.4" fill="#000"/>
<circle cx="151.6" cy="867.3" r="1.4" fill="#000"/>
<circle cx="154.3" cy="867.8" r="1.4" fill="#000"/>
<circle cx="155.3" cy="867.8" r="1.4" fill="#000"/>
<circle cx="157.7" cy="867.8" r="1.4" fill="#000"/>
<circle cx="158.9" cy="867.5" r="1.4" fill="#000"/>
<circle cx="160.3" cy="867.1" r="1.4" fill="#000"/>
<circle cx="161.9" cy="866.8" r="1.4" fill="#000"/>
<circle cx="164.0" cy="867.4" r="1.4" fill="#000"/>
<circle cx="165.8" cy="867.9" r="1.4" fill="#000"/>
<circle cx="145.8" cy="868.5" r="1.4" fill="#000"/>
<circle cx="147.4" cy="868.7" r="1.4" fill="#000"/>
<circle cx="149.2" cy="868.9" r="1.4" fill="#000"/>
<circle cx="152.3" cy="868.5" r="1.4" fill="#000"/>
<circle cx="154.8" cy="868.5" r="1.4" fill="#000"/>
<circle cx="156.0" cy="868.8" r="1.4" fill="#000"/>
<circle cx="158.4" cy="869.3" r="1.4" fill="#000"/>
<circle cx="162.2" cy="868.3" r="1.4" fill="#000"/>
<circle cx="163.9" cy="869.2" r="1.4" fill="#000"/>
<circle cx="165.7" cy="869.0" r="1.4" fill="#000"/>
<circle cx="166.6" cy="868.5" r="1.4" fill="#000"/>
<circle cx="146.3" cy="870.2" r="1.4" fill="#000"/>
<circle cx="149.6" cy="869.8" r="1.4" fill="#000"/>
<circle cx="152.3" cy="870.2" r="1.4" fill="#000"/>
<circle cx="153.3" cy="871.0" r="1.4" fill="#000"/>
<circle cx="155.1" cy="869.8" r="1.4" fill="#000"/>
<circle cx="156.8" cy="870.6" r="1.4" fill="#000"/>
<circle cx="158.4" cy="870.4" r="1.4" fill="#000"/>
<circle cx="161.4" cy="869.9" r="1.4" fill="#000"/>
<circle cx="162.8" cy="870.3" r="1.4" fill="#000"/>
<circle cx="165.7" cy="870.3" r="1.4" fill="#000"/>
<circle cx="167.7" cy="870.1" r="1.4" fill="#000"/>
<circle cx="147.6" cy="871.3" r="1.4" fill="#000"/>
<circle cx="149.1" cy="871.5" r="1.4" fill="#000"/>
<circle cx="151.6" cy="871.4" r="1.4" fill="#000"/>
<circle cx="153.4" cy="872.0" r="1.4" fill="#000"/>
<circle cx="156.9" cy="872.1" r="1.4" fill="#000"/>
<circle cx="158.4" cy="871.9" r="1.4" fill="#000"/>
<circle cx="159.5" cy="872.3" r="1.4" fill="#000"/>
<circle cx="165.3" cy="872.2" r="1.4" fill="#000"/>
<circle cx="167.3" cy="871.9" r="1.4" fill="#000"/>
<circle cx="168.9" cy="871.6" r="1.4" fill="#000"/>
<circle cx="150.8" cy="874.0" r="1.4" fill="#000"/>
<circle cx="151.4" cy="873.9" r="1.4" fill="#000"/>
<circle cx="154.3" cy="873.6" r="1.4" fill="#000"/>
<circle cx="155.1" cy="873.6" r="1.4" fill="#000"/>
<circle cx="157.6" cy="873.9" r="1.4" fill="#000"/>
<circle cx="158.4" cy="873.9" r="1.4" fill="#000"/>
<circle cx="161.2" cy="872.9" r="1.4" fill="#000"/>
<circle cx="162.8" cy="873.9" r="1.4" fill="#000"/>
<circle cx="164.7" cy="873.0" r="1.4" fill="#000"/>
<circle cx="165.8" cy="873.9" r="1.4" fill="#000"/>
<circle cx="167.7" cy="873.4" r="1.4" fill="#000"/>
<circle cx="147.1" cy="875.0" r="1.4" fill="#000"/>
<circle cx="149.8" cy="875.0" r="1.4" fill="#000"/>
<circle cx="151.0" cy="875.2" r="1.4" fill="#000"/>
<circle cx="152.3" cy="875.3" r="1.4" fill="#000"/>
<circle cx="154.1" cy="875.0" r="1.4" fill="#000"/>
<circle cx="156.7" cy="874.7" r="1.4" fill="#000"/>
<circle cx="158.1" cy="875.5" r="1.4" fill="#000"/>
<circle cx="159.4" cy="875.1" r="1.4" fill="#000"/>
<circle cx="163.3" cy="875.3" r="1.4" fill="#000"/>
<circle cx="164.6" cy="875.4" r="1.4" fill="#000"/>
<circle cx="166.6" cy="875.3" r="1.4" fill="#000"/>
<circle cx="150.6" cy="876.0" r="1.4" fill="#000"/>
<circle cx="153.3" cy="876.4" r="1.4" fill="#000"/>
<circle cx="155.6" cy="876.9" r="1.4" fill="#000"/>
<circle cx="156.6" cy="876.2" r="1.4" fill="#000"/>
<circle cx="159.0" cy="876.7" r="1.4" fill="#000"/>
<circle cx="160.2" cy="876.1" r="1.4" fill="#000"/>
<circle cx="162.3" cy="876.8" r="1.4" fill="#000"/>
<circle cx="154.8" cy="878.1" r="1.4" fill="#000"/>
<circle cx="156.9" cy="877.9" r="1.4" fill="#000"/>
<circle cx="160.3" cy="878.3" r="1.4" fill="#000"/>
<circle cx="150.1" cy="834.0" r="1.4" fill="#000"/>
<circle cx="152.2" cy="833.6" r="1.4" fill="#000"/>
<circle cx="154.5" cy="833.9" r="1.4" fill="#000"/>
<circle cx="156.7" cy="834.2" r="1.4" fill="#000"/>
<circle cx="160.2" cy="833.7" r="1.4" fill="#000"/>
<circle cx="149.5" cy="836.0" r="1.4" fill="#000"/>
<circle cx="151.2" cy="835.4" r="1.4" fill="#000"/>
<circle cx="154.7" cy="835.3" r="1.4" fill="#000"/>
<circle cx="159.3" cy="836.5" r="1.4" fill="#000"/>
<circle cx="161.6" cy="835.8" r="1.4" fill="#000"/>
<circle cx="148.6" cy="838.2" r="1.4" fill="#000"/>
<circle cx="149.5" cy="837.3" r="1.4" fill="#000"/>
<circle cx="154.2" cy="837.4" r="1.4" fill="#000"/>
<circle cx="155.8" cy="837.5" r="1.4" fill="#000"/>
<circle cx="158.1" cy="838.3" r="1.4" fill="#000"/>
<circle cx="160.6" cy="838.2" r="1.4" fill="#000"/>
<circle cx="148.5" cy="839.9" r="1.4" fill="#000"/>
<circle cx="155.3" cy="839.0" r="1.4" fill="#000"/>
<circle cx="158.7" cy="838.8" r="1.4" fill="#000"/>
<circle cx="150.4" cy="841.0" r="1.4" fill="#000"/>
<circle cx="151.7" cy="841.5" r="1.4" fill="#000"/>
<circle cx="156.2" cy="840.5" r="1.4" fill="#000"/>
<circle cx="157.8" cy="841.7" r="1.4" fill="#000"/>
<circle cx="162.7" cy="840.9" r="1.4" fill="#000"/>
<circle cx="153.1" cy="842.2" r="1.4" fill="#000"/>
<circle cx="154.9" cy="843.0" r="1.4" fill="#000"/>
<circle cx="156.4" cy="843.4" r="1.4" fill="#000"/>
<circle cx="159.6" cy="843.4" r="1.4" fill="#000"/>
<circle cx="151.9" cy="753.5" r="1.4" fill="#000"/>
<circle cx="167.3" cy="755.6" r="1.4" fill="#000"/>
<circle cx="140.8" cy="758.8" r="1.4" fill="#000"/>
<circle cx="191.4" cy="759.2" r="1.4" fill="#000"/>
<circle cx="145.1" cy="774.4" r="1.4" fill="#000"/>
<circle cx="157.8" cy="775.4" r="1.4" fill="#000"/>
<circle cx="130.5" cy="784.8" r="1.4" fill="#000"/>
<circle cx="136.2" cy="788.4" r="1.4" fill="#000"/>
<circle cx="151.5" cy="787.1" r="1.4" fill="#000"/>
<circle cx="154.6" cy="790.0" r="1.4" fill="#000"/>
<circle cx="183.0" cy="787.0" r="1.4" fill="#000"/>
<circle cx="156.9" cy="794.3" r="1.4" fill="#000"/>
<circle cx="143.5" cy="799.4" r="1.4" fill="#000"/>
<circle cx="157.5" cy="799.4" r="1.4" fill="#000"/>
<circle cx="139.8" cy="801.3" r="1.4" fill="#000"/>
<circle cx="118.9" cy="804.6" r="1.4" fill="#000"/>
<circle cx="127.3" cy="807.9" r="1.4" fill="#000"/>
<circle cx="153.5" cy="807.4" r="1.4" fill="#000"/>
<circle cx="163.6" cy="805.4" r="1.4" fill="#000"/>
<circle cx="164.8" cy="807.6" r="1.4" fill="#000"/>
<circle cx="162.2" cy="808.6" r="1.4" fill="#000"/>
<circle cx="162.6" cy="810.8" r="1.4" fill="#000"/>
<circle cx="146.5" cy="812.5" r="1.4" fill="#000"/>
<circle cx="157.0" cy="812.5" r="1.4" fill="#000"/>
<circle cx="154.1" cy="813.7" r="1.4" fill="#000"/>
<circle cx="170.5" cy="812.7" r="1.4" fill="#000"/>
<circle cx="151.2" cy="815.2" r="1.4" fill="#000"/>
<circle cx="137.0" cy="816.0" r="1.4" fill="#000"/>
<circle cx="152.7" cy="816.6" r="1.4" fill="#000"/>
<circle cx="156.3" cy="816.0" r="1.4" fill="#000"/>
<circle cx="150.2" cy="818.1" r="1.4" fill="#000"/>
<circle cx="141.4" cy="818.8" r="1.4" fill="#000"/>
<circle cx="149.0" cy="819.5" r="1.4" fill="#000"/>
<circle cx="140.3" cy="821.0" r="1.4" fill="#000"/>
<circle cx="145.4" cy="820.3" r="1.4" fill="#000"/>
<circle cx="166.1" cy="820.7" r="1.4" fill="#000"/>
<circle cx="128.3" cy="822.7" r="1.4" fill="#000"/>
<circle cx="133.7" cy="822.7" r="1.4" fill="#000"/>
<circle cx="146.8" cy="822.5" r="1.4" fill="#000"/>
<circle cx="164.3" cy="822.5" r="1.4" fill="#000"/>
<circle cx="170.2" cy="822.7" r="1.4" fill="#000"/>
<circle cx="149.0" cy="818.3" r="1.4" fill="#000"/>
<circle cx="136.8" cy="824.5" r="1.4" fill="#000"/>
<circle cx="148.2" cy="824.9" r="1.4" fill="#000"/>
<circle cx="100.9" cy="825.1" r="1.4" fill="#000"/>
<circle cx="116.8" cy="825.2" r="1.4" fill="#000"/>
<circle cx="118.6" cy="828.1" r="1.4" fill="#000"/>
<circle cx="108.1" cy="830.6" r="1.4" fill="#000"/>
<circle cx="118.1" cy="832.8" r="1.4" fill="#000"/>
<circle cx="124.3" cy="833.4" r="1.4" fill="#000"/>
<circle cx="106.1" cy="840.8" r="1.4" fill="#000"/>
<circle cx="114.0" cy="840.9" r="1.4" fill="#000"/>
<circle cx="135.0" cy="826.2" r="1.4" fill="#000"/>
<circle cx="136.3" cy="827.5" r="1.4" fill="#000"/>
<circle cx="132.0" cy="828.8" r="1.4" fill="#000"/>
<circle cx="132.4" cy="831.0" r="1.4" fill="#000"/>
<circle cx="135.9" cy="831.5" r="1.4" fill="#000"/>
<circle cx="136.3" cy="832.9" r="1.4" fill="#000"/>
<circle cx="139.4" cy="826.2" r="1.4" fill="#000"/>
<circle cx="141.2" cy="825.3" r="1.4" fill="#000"/>
<circle cx="143.8" cy="824.9" r="1.4" fill="#000"/>
<circle cx="140.3" cy="828.0" r="1.4" fill="#000"/>
<circle cx="139.0" cy="829.7" r="1.4" fill="#000"/>
<circle cx="138.5" cy="831.5" r="1.4" fill="#000"/>
<circle cx="141.2" cy="830.1" r="1.4" fill="#000"/>
<circle cx="143.4" cy="828.8" r="1.4" fill="#000"/>
<circle cx="143.8" cy="831.0" r="1.4" fill="#000"/>
<circle cx="141.2" cy="833.6" r="1.4" fill="#000"/>
<circle cx="140.3" cy="835.4" r="1.4" fill="#000"/>
<circle cx="142.5" cy="836.3" r="1.4" fill="#000"/>
<circle cx="137.7" cy="837.9" r="1.4" fill="#000"/>
<circle cx="133.5" cy="839.2" r="1.4" fill="#000"/>
<circle cx="135.9" cy="842.0" r="1.4" fill="#000"/>
<circle cx="135.9" cy="844.2" r="1.4" fill="#000"/>
<circle cx="139.4" cy="840.2" r="1.4" fill="#000"/>
<circle cx="141.3" cy="840.0" r="1.4" fill="#000"/>
<circle cx="153.0" cy="825.8" r="1.4" fill="#000"/>
<circle cx="152.6" cy="828.0" r="1.4" fill="#000"/>
<circle cx="150.8" cy="829.7" r="1.4" fill="#000"/>
<circle cx="153.4" cy="830.6" r="1.4" fill="#000"/>
<circle cx="156.1" cy="828.8" r="1.4" fill="#000"/>
<circle cx="158.7" cy="827.5" r="1.4" fill="#000"/>
<circle cx="160.0" cy="828.8" r="1.4" fill="#000"/>
<circle cx="147.3" cy="831.0" r="1.4" fill="#000"/>
<circle cx="149.0" cy="832.8" r="1.4" fill="#000"/>
<circle cx="151.7" cy="832.3" r="1.4" fill="#000"/>
<circle cx="154.3" cy="832.8" r="1.4" fill="#000"/>
<circle cx="156.9" cy="831.9" r="1.4" fill="#000"/>
<circle cx="159.1" cy="831.5" r="1.4" fill="#000"/>
<circle cx="145.5" cy="833.6" r="1.4" fill="#000"/>
<circle cx="147.7" cy="835.0" r="1.4" fill="#000"/>
<circle cx="149.9" cy="834.5" r="1.4" fill="#000"/>
<circle cx="152.6" cy="835.4" r="1.4" fill="#000"/>
<circle cx="154.7" cy="835.0" r="1.4" fill="#000"/>
<circle cx="157.4" cy="834.5" r="1.4" fill="#000"/>
<circle cx="159.6" cy="834.1" r="1.4" fill="#000"/>
<circle cx="145.1" cy="836.3" r="1.4" fill="#000"/>
<circle cx="147.3" cy="837.2" r="1.4" fill="#000"/>
<circle cx="149.5" cy="836.7" r="1.4" fill="#000"/>
<circle cx="151.7" cy="837.6" r="1.4" fill="#000"/>
<circle cx="153.9" cy="837.2" r="1.4" fill="#000"/>
<circle cx="156.1" cy="837.6" r="1.4" fill="#000"/>
<circle cx="158.2" cy="836.7" r="1.4" fill="#000"/>
<circle cx="160.0" cy="836.3" r="1.4" fill="#000"/>
<circle cx="145.5" cy="838.9" r="1.4" fill="#000"/>
<circle cx="147.7" cy="839.8" r="1.4" fill="#000"/>
<circle cx="149.9" cy="839.3" r="1.4" fill="#000"/>
<circle cx="152.1" cy="840.2" r="1.4" fill="#000"/>
<circle cx="154.3" cy="839.8" r="1.4" fill="#000"/>
<circle cx="156.5" cy="840.2" r="1.4" fill="#000"/>
<circle cx="158.7" cy="839.3" r="1.4" fill="#000"/>
<circle cx="145.1" cy="841.5" r="1.4" fill="#000"/>
<circle cx="147.3" cy="842.0" r="1.4" fill="#000"/>
<circle cx="149.5" cy="842.4" r="1.4" fill="#000"/>
<circle cx="151.7" cy="842.0" r="1.4" fill="#000"/>
<circle cx="153.9" cy="842.8" r="1.4" fill="#000"/>
<circle cx="156.1" cy="842.4" r="1.4" fill="#000"/>
<circle cx="158.2" cy="842.0" r="1.4" fill="#000"/>
<circle cx="145.5" cy="843.7" r="1.4" fill="#000"/>
<circle cx="149.0" cy="845.0" r="1.4" fill="#000"/>
<circle cx="152.6" cy="844.6" r="1.4" fill="#000"/>
<circle cx="155.2" cy="845.0" r="1.4" fill="#000"/>
<circle cx="157.4" cy="844.6" r="1.4" fill="#000"/>
<circle cx="159.6" cy="843.7" r="1.4" fill="#000"/>
<circle cx="144.2" cy="827.5" r="1.4" fill="#000"/>
<circle cx="146.4" cy="828.8" r="1.4" fill="#000"/>
<circle cx="170.8" cy="826.5" r="1.4" fill="#000"/>
<circle cx="177.6" cy="825.9" r="1.4" fill="#000"/>
<circle cx="181.3" cy="831.2" r="1.4" fill="#000"/>
<circle cx="187.0" cy="836.0" r="1.4" fill="#000"/>
<circle cx="177.9" cy="838.0" r="1.4" fill="#000"/>
<circle cx="174.3" cy="835.4" r="1.4" fill="#000"/>
<circle cx="176.0" cy="835.6" r="1.4" fill="#000"/>
<circle cx="171.0" cy="838.0" r="1.4" fill="#000"/>
<circle cx="173.8" cy="830.3" r="1.4" fill="#000"/>
<circle cx="173.4" cy="831.9" r="1.4" fill="#000"/>
<circle cx="168.1" cy="829.3" r="1.4" fill="#000"/>
<circle cx="170.3" cy="831.0" r="1.4" fill="#000"/>
<circle cx="168.6" cy="833.2" r="1.4" fill="#000"/>
<circle cx="165.9" cy="838.0" r="1.4" fill="#000"/>
<circle cx="168.1" cy="841.1" r="1.4" fill="#000"/>
<circle cx="166.8" cy="842.6" r="1.4" fill="#000"/>
<circle cx="161.1" cy="828.0" r="1.4" fill="#000"/>
<circle cx="163.8" cy="827.1" r="1.4" fill="#000"/>
<circle cx="165.5" cy="827.5" r="1.4" fill="#000"/>
<circle cx="158.9" cy="829.7" r="1.4" fill="#000"/>
<circle cx="161.6" cy="830.6" r="1.4" fill="#000"/>
<circle cx="164.2" cy="831.0" r="1.4" fill="#000"/>
<circle cx="159.4" cy="832.8" r="1.4" fill="#000"/>
<circle cx="162.0" cy="833.6" r="1.4" fill="#000"/>
<circle cx="164.6" cy="834.1" r="1.4" fill="#000"/>
<circle cx="156.3" cy="835.0" r="1.4" fill="#000"/>
<circle cx="158.9" cy="835.8" r="1.4" fill="#000"/>
<circle cx="161.6" cy="836.3" r="1.4" fill="#000"/>
<circle cx="164.2" cy="836.7" r="1.4" fill="#000"/>
<circle cx="162.0" cy="839.3" r="1.4" fill="#000"/>
<circle cx="164.2" cy="840.2" r="1.4" fill="#000"/>
<circle cx="161.6" cy="842.4" r="1.4" fill="#000"/>
<circle cx="166.4" cy="831.0" r="1.4" fill="#000"/>
<circle cx="102.4" cy="870.1" r="1.4" fill="#000"/>
<circle cx="114.0" cy="868.6" r="1.4" fill="#000"/>
<circle cx="103.5" cy="878.8" r="1.4" fill="#000"/>
<circle cx="123.4" cy="866.8" r="1.4" fill="#000"/>
<circle cx="127.6" cy="867.0" r="1.4" fill="#000"/>
<circle cx="130.0" cy="866.8" r="1.4" fill="#000"/>
<circle cx="130.2" cy="868.8" r="1.4" fill="#000"/>
<circle cx="132.8" cy="868.3" r="1.4" fill="#000"/>
<circle cx="122.3" cy="874.5" r="1.4" fill="#000"/>
<circle cx="121.9" cy="881.3" r="1.4" fill="#000"/>
<circle cx="125.7" cy="889.3" r="1.4" fill="#000"/>
<circle cx="132.8" cy="873.3" r="1.4" fill="#000"/>
<circle cx="136.8" cy="874.2" r="1.4" fill="#000"/>
<circle cx="138.5" cy="873.3" r="1.4" fill="#000"/>
<circle cx="135.5" cy="878.4" r="1.4" fill="#000"/>
<circle cx="133.7" cy="879.3" r="1.4" fill="#000"/>
<circle cx="134.6" cy="881.5" r="1.4" fill="#000"/>
<circle cx="132.2" cy="883.5" r="1.4" fill="#000"/>
<circle cx="136.2" cy="883.8" r="1.4" fill="#000"/>
<circle cx="138.8" cy="885.8" r="1.4" fill="#000"/>
<circle cx="141.9" cy="880.2" r="1.4" fill="#000"/>
<circle cx="143.4" cy="878.8" r="1.4" fill="#000"/>
<circle cx="140.6" cy="894.3" r="1.4" fill="#000"/>
<circle cx="148.9" cy="894.9" r="1.4" fill="#000"/>
<circle cx="151.1" cy="893.3" r="1.4" fill="#000"/>
<circle cx="151.1" cy="889.1" r="1.4" fill="#000"/>
<circle cx="147.1" cy="887.9" r="1.4" fill="#000"/>
<circle cx="146.9" cy="885.4" r="1.4" fill="#000"/>
<circle cx="155.2" cy="888.9" r="1.4" fill="#000"/>
<circle cx="146.4" cy="882.3" r="1.4" fill="#000"/>
<circle cx="147.7" cy="881.0" r="1.4" fill="#000"/>
<circle cx="141.6" cy="874.5" r="1.4" fill="#000"/>
<circle cx="144.2" cy="874.0" r="1.4" fill="#000"/>
<circle cx="152.1" cy="861.1" r="1.4" fill="#000"/>
<circle cx="157.4" cy="861.8" r="1.4" fill="#000"/>
<circle cx="138.5" cy="864.4" r="1.4" fill="#000"/>
<circle cx="137.2" cy="865.7" r="1.4" fill="#000"/>
<circle cx="135.9" cy="867.5" r="1.4" fill="#000"/>
<circle cx="136.8" cy="869.2" r="1.4" fill="#000"/>
<circle cx="139.4" cy="867.0" r="1.4" fill="#000"/>
<circle cx="142.0" cy="865.3" r="1.4" fill="#000"/>
<circle cx="145.1" cy="863.9" r="1.4" fill="#000"/>
<circle cx="147.7" cy="864.4" r="1.4" fill="#000"/>
<circle cx="150.4" cy="863.5" r="1.4" fill="#000"/>
<circle cx="154.3" cy="863.5" r="1.4" fill="#000"/>
<circle cx="156.9" cy="864.4" r="1.4" fill="#000"/>
<circle cx="159.6" cy="863.1" r="1.4" fill="#000"/>
<circle cx="141.2" cy="868.3" r="1.4" fill="#000"/>
<circle cx="143.8" cy="867.5" r="1.4" fill="#000"/>
<circle cx="146.4" cy="867.0" r="1.4" fill="#000"/>
<circle cx="149.0" cy="866.6" r="1.4" fill="#000"/>
<circle cx="151.7" cy="866.1" r="1.4" fill="#000"/>
<circle cx="154.3" cy="866.6" r="1.4" fill="#000"/>
<circle cx="156.9" cy="867.0" r="1.4" fill="#000"/>
<circle cx="159.6" cy="866.1" r="1.4" fill="#000"/>
<circle cx="142.0" cy="870.5" r="1.4" fill="#000"/>
<circle cx="144.7" cy="870.1" r="1.4" fill="#000"/>
<circle cx="147.3" cy="869.6" r="1.4" fill="#000"/>
<circle cx="149.9" cy="869.2" r="1.4" fill="#000"/>
<circle cx="152.6" cy="869.2" r="1.4" fill="#000"/>
<circle cx="155.2" cy="869.6" r="1.4" fill="#000"/>
<circle cx="157.8" cy="869.6" r="1.4" fill="#000"/>
<circle cx="160.0" cy="868.8" r="1.4" fill="#000"/>
<circle cx="145.5" cy="872.3" r="1.4" fill="#000"/>
<circle cx="148.2" cy="871.8" r="1.4" fill="#000"/>
<circle cx="150.8" cy="871.8" r="1.4" fill="#000"/>
<circle cx="153.4" cy="872.3" r="1.4" fill="#000"/>
<circle cx="156.1" cy="872.3" r="1.4" fill="#000"/>
<circle cx="158.7" cy="871.8" r="1.4" fill="#000"/>
<circle cx="147.3" cy="874.5" r="1.4" fill="#000"/>
<circle cx="149.9" cy="874.5" r="1.4" fill="#000"/>
<circle cx="152.6" cy="874.9" r="1.4" fill="#000"/>
<circle cx="155.2" cy="874.9" r="1.4" fill="#000"/>
<circle cx="157.8" cy="874.5" r="1.4" fill="#000"/>
<circle cx="160.0" cy="874.0" r="1.4" fill="#000"/>
<circle cx="148.2" cy="876.6" r="1.4" fill="#000"/>
<circle cx="150.8" cy="877.1" r="1.4" fill="#000"/>
<circle cx="153.4" cy="877.1" r="1.4" fill="#000"/>
<circle cx="156.1" cy="877.1" r="1.4" fill="#000"/>
<circle cx="158.7" cy="876.6" r="1.4" fill="#000"/>
<circle cx="149.0" cy="879.3" r="1.4" fill="#000"/>
<circle cx="151.7" cy="879.3" r="1.4" fill="#000"/>
<circle cx="154.3" cy="879.7" r="1.4" fill="#000"/>
<circle cx="156.9" cy="879.3" r="1.4" fill="#000"/>
<circle cx="159.6" cy="879.3" r="1.4" fill="#000"/>
<circle cx="152.6" cy="881.9" r="1.4" fill="#000"/>
<circle cx="155.2" cy="882.3" r="1.4" fill="#000"/>
<circle cx="157.8" cy="881.9" r="1.4" fill="#000"/>
<circle cx="153.4" cy="884.5" r="1.4" fill="#000"/>
<circle cx="156.1" cy="884.5" r="1.4" fill="#000"/>
<circle cx="158.7" cy="884.1" r="1.4" fill="#000"/>
<circle cx="154.7" cy="886.7" r="1.4" fill="#000"/>
<circle cx="157.4" cy="886.7" r="1.4" fill="#000"/>
<circle cx="159.6" cy="886.3" r="1.4" fill="#000"/>
<circle cx="175.8" cy="866.1" r="1.4" fill="#000"/>
<circle cx="175.6" cy="868.3" r="1.4" fill="#000"/>
<circle cx="175.0" cy="870.5" r="1.4" fill="#000"/>
<circle cx="173.8" cy="872.3" r="1.4" fill="#000"/>
<circle cx="172.5" cy="874.0" r="1.4" fill="#000"/>
<circle cx="177.8" cy="874.5" r="1.4" fill="#000"/>
<circle cx="179.5" cy="875.9" r="1.4" fill="#000"/>
<circle cx="182.2" cy="874.9" r="1.4" fill="#000"/>
<circle cx="184.3" cy="875.8" r="1.4" fill="#000"/>
<circle cx="186.5" cy="874.0" r="1.4" fill="#000"/>
<circle cx="198.6" cy="874.5" r="1.4" fill="#000"/>
<circle cx="186.1" cy="880.9" r="1.4" fill="#000"/>
<circle cx="176.5" cy="878.4" r="1.4" fill="#000"/>
<circle cx="178.2" cy="878.6" r="1.4" fill="#000"/>
<circle cx="173.4" cy="880.2" r="1.4" fill="#000"/>
<circle cx="170.8" cy="878.0" r="1.4" fill="#000"/>
<circle cx="176.5" cy="882.8" r="1.4" fill="#000"/>
<circle cx="178.0" cy="885.8" r="1.4" fill="#000"/>
<circle cx="176.0" cy="888.7" r="1.4" fill="#000"/>
<circle cx="186.5" cy="886.9" r="1.4" fill="#000"/>
<circle cx="191.3" cy="885.2" r="1.4" fill="#000"/>
<circle cx="192.5" cy="890.4" r="1.4" fill="#000"/>
<circle cx="200.1" cy="893.0" r="1.4" fill="#000"/>
<circle cx="169.9" cy="893.3" r="1.4" fill="#000"/>
<circle cx="172.1" cy="894.2" r="1.4" fill="#000"/>
<circle cx="170.8" cy="895.9" r="1.4" fill="#000"/>
<circle cx="173.0" cy="895.9" r="1.4" fill="#000"/>
<circle cx="163.8" cy="896.8" r="1.4" fill="#000"/>
<circle cx="167.7" cy="897.2" r="1.4" fill="#000"/>
<circle cx="171.2" cy="885.4" r="1.4" fill="#000"/>
<circle cx="171.2" cy="887.6" r="1.4" fill="#000"/>
<circle cx="169.5" cy="889.3" r="1.4" fill="#000"/>
<circle cx="164.6" cy="888.5" r="1.4" fill="#000"/>
<circle cx="162.0" cy="864.8" r="1.4" fill="#000"/>
<circle cx="164.6" cy="864.4" r="1.4" fill="#000"/>
<circle cx="167.3" cy="864.8" r="1.4" fill="#000"/>
<circle cx="169.0" cy="866.1" r="1.4" fill="#000"/>
<circle cx="161.6" cy="867.5" r="1.4" fill="#000"/>
<circle cx="164.2" cy="867.0" r="1.4" fill="#000"/>
<circle cx="166.8" cy="867.5" r="1.4" fill="#000"/>
<circle cx="169.5" cy="868.8" r="1.4" fill="#000"/>
<circle cx="156.8" cy="869.6" r="1.4" fill="#000"/>
<circle cx="162.0" cy="870.1" r="1.4" fill="#000"/>
<circle cx="164.6" cy="869.6" r="1.4" fill="#000"/>
<circle cx="167.3" cy="870.1" r="1.4" fill="#000"/>
<circle cx="169.9" cy="871.4" r="1.4" fill="#000"/>
<circle cx="161.6" cy="872.7" r="1.4" fill="#000"/>
<circle cx="164.2" cy="872.3" r="1.4" fill="#000"/>
<circle cx="166.8" cy="872.7" r="1.4" fill="#000"/>
<circle cx="169.0" cy="874.0" r="1.4" fill="#000"/>
<circle cx="156.8" cy="874.9" r="1.4" fill="#000"/>
<circle cx="162.0" cy="875.3" r="1.4" fill="#000"/>
<circle cx="164.6" cy="874.9" r="1.4" fill="#000"/>
<circle cx="167.3" cy="875.3" r="1.4" fill="#000"/>
<circle cx="161.6" cy="878.0" r="1.4" fill="#000"/>
<circle cx="164.2" cy="877.5" r="1.4" fill="#000"/>
<circle cx="166.8" cy="878.0" r="1.4" fill="#000"/>
<circle cx="168.6" cy="879.3" r="1.4" fill="#000"/>
<circle cx="162.0" cy="880.6" r="1.4" fill="#000"/>
<circle cx="164.6" cy="880.2" r="1.4" fill="#000"/>
<circle cx="166.8" cy="881.5" r="1.4" fill="#000"/>
<circle cx="156.3" cy="882.8" r="1.4" fill="#000"/>
<circle cx="158.9" cy="882.3" r="1.4" fill="#000"/>
<circle cx="161.6" cy="883.2" r="1.4" fill="#000"/>
<circle cx="164.2" cy="882.8" r="1.4" fill="#000"/>
<circle cx="166.4" cy="884.1" r="1.4" fill="#000"/>
<circle cx="157.2" cy="885.4" r="1.4" fill="#000"/>
<circle cx="159.8" cy="885.0" r="1.4" fill="#000"/>
<circle cx="162.4" cy="885.8" r="1.4" fill="#000"/>
<circle cx="164.6" cy="886.3" r="1.4" fill="#000"/>
<circle cx="168.1" cy="881.9" r="1.4" fill="#000"/>
<circle cx="141.7" cy="899.1" r="1.4" fill="#000"/>
<circle cx="154.8" cy="890.0" r="1.4" fill="#000"/>
<circle cx="156.4" cy="899.1" r="1.4" fill="#000"/>
<circle cx="177.9" cy="899.5" r="1.4" fill="#000"/>
<circle cx="169.1" cy="902.7" r="1.4" fill="#000"/>
<circle cx="160.4" cy="904.9" r="1.4" fill="#000"/>
<circle cx="158.6" cy="906.1" r="1.4" fill="#000"/>
<circle cx="168.8" cy="907.8" r="1.4" fill="#000"/>
<circle cx="165.9" cy="917.0" r="1.4" fill="#000"/>
<circle cx="171.3" cy="917.7" r="1.4" fill="#000"/>
<circle cx="172.8" cy="917.4" r="1.4" fill="#000"/>
<circle cx="210.8" cy="882.3" r="1.3" fill="#e00000"/>
<circle cx="61.4" cy="870.9" r="1.3" fill="#e00000"/>
<circle cx="82.3" cy="880.3" r="1.3" fill="#e00000"/>
<circle cx="220.1" cy="838.3" r="1.3" fill="#e00000"/>
<text class="g" x="61.4" y="876.8">PEG10</text>
<text class="g" x="82.3" y="886.2">PHLDA2</text>
<text class="g" x="220.1" y="843.8">CEBPD</text>
<text class="g" x="211.1" y="887.7">EGFL6</text>
<rect class="fr" x="37.50" y="748.00" width="232.30" height="211.60"/>
<line class="tk" x1="61.51" y1="959.60" x2="61.51" y2="962.90"/>
<text class="ax" x="61.51" y="972.20">−3</text>
<line class="tk" x1="92.19" y1="959.60" x2="92.19" y2="962.90"/>
<text class="ax" x="92.19" y="972.20">−2</text>
<line class="tk" x1="122.87" y1="959.60" x2="122.87" y2="962.90"/>
<text class="ax" x="122.87" y="972.20">−1</text>
<line class="tk" x1="153.55" y1="959.60" x2="153.55" y2="962.90"/>
<text class="ax" x="153.55" y="972.20">0</text>
<line class="tk" x1="184.23" y1="959.60" x2="184.23" y2="962.90"/>
<text class="ax" x="184.23" y="972.20">1</text>
<line class="tk" x1="214.91" y1="959.60" x2="214.91" y2="962.90"/>
<text class="ax" x="214.91" y="972.20">2</text>
<line class="tk" x1="245.59" y1="959.60" x2="245.59" y2="962.90"/>
<text class="ax" x="245.59" y="972.20">3</text>
<line class="tk" x1="37.50" y1="931.96" x2="34.00" y2="931.96"/>
<text class="ax" transform="translate(29.10,932.46) rotate(-90)">−0.4</text>
<line class="tk" x1="37.50" y1="892.78" x2="34.00" y2="892.78"/>
<text class="ax" transform="translate(29.10,893.28) rotate(-90)">−0.2</text>
<line class="tk" x1="37.50" y1="853.60" x2="34.00" y2="853.60"/>
<text class="ax" transform="translate(29.10,854.10) rotate(-90)">0.0</text>
<line class="tk" x1="37.50" y1="814.42" x2="34.00" y2="814.42"/>
<text class="ax" transform="translate(29.10,814.92) rotate(-90)">0.2</text>
<line class="tk" x1="37.50" y1="775.24" x2="34.00" y2="775.24"/>
<text class="ax" transform="translate(29.10,775.74) rotate(-90)">0.4</text>
<text class="ax" x="153.55" y="986.10">log2FC in Accreta</text>
<text class="ax" transform="translate(15.00,854.10) rotate(-90)">log2FC in Preeclampsia</text>
</g>
<g id="plot-d">
<line class="rl" x1="438.00" y1="818.20" x2="670.60" y2="878.40"/>
<circle cx="569.2" cy="872.4" r="1.4" fill="#000"/>
<circle cx="570.9" cy="875.7" r="1.4" fill="#000"/>
<circle cx="573.7" cy="877.0" r="1.4" fill="#000"/>
<circle cx="570.4" cy="876.0" r="1.4" fill="#000"/>
<circle cx="571.0" cy="876.9" r="1.4" fill="#000"/>
<circle cx="573.7" cy="879.4" r="1.4" fill="#000"/>
<circle cx="574.0" cy="881.0" r="1.4" fill="#000"/>
<circle cx="564.2" cy="874.0" r="1.4" fill="#000"/>
<circle cx="567.7" cy="877.1" r="1.4" fill="#000"/>
<circle cx="562.5" cy="876.3" r="1.4" fill="#000"/>
<circle cx="567.5" cy="879.8" r="1.4" fill="#000"/>
<circle cx="546.8" cy="866.1" r="1.4" fill="#000"/>
<circle cx="549.6" cy="865.7" r="1.4" fill="#000"/>
<circle cx="551.7" cy="865.2" r="1.4" fill="#000"/>
<circle cx="553.2" cy="865.3" r="1.4" fill="#000"/>
<circle cx="556.6" cy="865.3" r="1.4" fill="#000"/>
<circle cx="546.4" cy="868.5" r="1.4" fill="#000"/>
<circle cx="551.3" cy="867.1" r="1.4" fill="#000"/>
<circle cx="554.5" cy="867.2" r="1.4" fill="#000"/>
<circle cx="557.7" cy="867.3" r="1.4" fill="#000"/>
<circle cx="549.6" cy="869.0" r="1.4" fill="#000"/>
<circle cx="551.2" cy="870.0" r="1.4" fill="#000"/>
<circle cx="553.6" cy="869.8" r="1.4" fill="#000"/>
<circle cx="546.7" cy="871.9" r="1.4" fill="#000"/>
<circle cx="548.5" cy="871.7" r="1.4" fill="#000"/>
<circle cx="555.7" cy="871.0" r="1.4" fill="#000"/>
<circle cx="547.3" cy="830.5" r="1.4" fill="#000"/>
<circle cx="552.4" cy="831.6" r="1.4" fill="#000"/>
<circle cx="542.4" cy="833.1" r="1.4" fill="#000"/>
<circle cx="544.2" cy="833.2" r="1.4" fill="#000"/>
<circle cx="546.4" cy="833.6" r="1.4" fill="#000"/>
<circle cx="549.0" cy="833.7" r="1.4" fill="#000"/>
<circle cx="552.2" cy="834.2" r="1.4" fill="#000"/>
<circle cx="540.1" cy="834.0" r="1.4" fill="#000"/>
<circle cx="545.7" cy="835.1" r="1.4" fill="#000"/>
<circle cx="547.5" cy="834.9" r="1.4" fill="#000"/>
<circle cx="547.9" cy="837.3" r="1.4" fill="#000"/>
<circle cx="550.5" cy="836.7" r="1.4" fill="#000"/>
<circle cx="542.8" cy="838.2" r="1.4" fill="#000"/>
<circle cx="544.7" cy="838.2" r="1.4" fill="#000"/>
<circle cx="547.4" cy="839.3" r="1.4" fill="#000"/>
<circle cx="549.5" cy="838.5" r="1.4" fill="#000"/>
<circle cx="551.8" cy="839.6" r="1.4" fill="#000"/>
<circle cx="553.2" cy="839.4" r="1.4" fill="#000"/>
<circle cx="546.4" cy="840.1" r="1.4" fill="#000"/>
<circle cx="548.1" cy="840.8" r="1.4" fill="#000"/>
<circle cx="554.3" cy="748.7" r="1.4" fill="#000"/>
<circle cx="536.1" cy="756.9" r="1.4" fill="#000"/>
<circle cx="560.3" cy="758.9" r="1.4" fill="#000"/>
<circle cx="579.1" cy="759.4" r="1.4" fill="#000"/>
<circle cx="550.4" cy="774.4" r="1.4" fill="#000"/>
<circle cx="581.9" cy="781.9" r="1.4" fill="#000"/>
<circle cx="558.4" cy="788.4" r="1.4" fill="#000"/>
<circle cx="576.4" cy="788.0" r="1.4" fill="#000"/>
<circle cx="543.8" cy="791.5" r="1.4" fill="#000"/>
<circle cx="549.6" cy="790.8" r="1.4" fill="#000"/>
<circle cx="555.9" cy="791.8" r="1.4" fill="#000"/>
<circle cx="574.9" cy="792.2" r="1.4" fill="#000"/>
<circle cx="556.2" cy="794.7" r="1.4" fill="#000"/>
<circle cx="555.2" cy="797.9" r="1.4" fill="#000"/>
<circle cx="560.6" cy="796.9" r="1.4" fill="#000"/>
<circle cx="521.5" cy="800.1" r="1.4" fill="#000"/>
<circle cx="545.7" cy="801.7" r="1.4" fill="#000"/>
<circle cx="539.4" cy="805.4" r="1.4" fill="#000"/>
<circle cx="533.1" cy="806.7" r="1.4" fill="#000"/>
<circle cx="543.1" cy="808.6" r="1.4" fill="#000"/>
<circle cx="543.1" cy="810.8" r="1.4" fill="#000"/>
<circle cx="552.6" cy="808.6" r="1.4" fill="#000"/>
<circle cx="554.7" cy="810.8" r="1.4" fill="#000"/>
<circle cx="560.3" cy="809.8" r="1.4" fill="#000"/>
<circle cx="564.2" cy="809.3" r="1.4" fill="#000"/>
<circle cx="565.4" cy="809.8" r="1.4" fill="#000"/>
<circle cx="556.2" cy="813.0" r="1.4" fill="#000"/>
<circle cx="564.2" cy="813.7" r="1.4" fill="#000"/>
<circle cx="574.2" cy="814.9" r="1.4" fill="#000"/>
<circle cx="551.8" cy="814.4" r="1.4" fill="#000"/>
<circle cx="550.4" cy="815.9" r="1.4" fill="#000"/>
<circle cx="545.5" cy="814.9" r="1.4" fill="#000"/>
<circle cx="556.2" cy="815.4" r="1.4" fill="#000"/>
<circle cx="535.0" cy="815.9" r="1.4" fill="#000"/>
<circle cx="535.0" cy="818.1" r="1.4" fill="#000"/>
<circle cx="542.3" cy="816.6" r="1.4" fill="#000"/>
<circle cx="543.8" cy="818.1" r="1.4" fill="#000"/>
<circle cx="548.2" cy="817.3" r="1.4" fill="#000"/>
<circle cx="553.3" cy="818.1" r="1.4" fill="#000"/>
<circle cx="551.8" cy="820.3" r="1.4" fill="#000"/>
<circle cx="545.3" cy="821.0" r="1.4" fill="#000"/>
<circle cx="538.7" cy="822.7" r="1.4" fill="#000"/>
<circle cx="543.8" cy="822.5" r="1.4" fill="#000"/>
<circle cx="547.4" cy="821.7" r="1.4" fill="#000"/>
<circle cx="559.1" cy="821.0" r="1.4" fill="#000"/>
<circle cx="562.0" cy="821.0" r="1.4" fill="#000"/>
<circle cx="550.4" cy="822.2" r="1.4" fill="#000"/>
<circle cx="552.6" cy="820.9" r="1.4" fill="#000"/>
<circle cx="560.9" cy="820.9" r="1.4" fill="#000"/>
<circle cx="562.7" cy="823.1" r="1.4" fill="#000"/>
<circle cx="543.0" cy="824.0" r="1.4" fill="#000"/>
<circle cx="547.3" cy="823.6" r="1.4" fill="#000"/>
<circle cx="535.5" cy="825.3" r="1.4" fill="#000"/>
<circle cx="542.1" cy="825.8" r="1.4" fill="#000"/>
<circle cx="545.1" cy="826.2" r="1.4" fill="#000"/>
<circle cx="548.2" cy="825.8" r="1.4" fill="#000"/>
<circle cx="551.3" cy="826.2" r="1.4" fill="#000"/>
<circle cx="554.3" cy="825.8" r="1.4" fill="#000"/>
<circle cx="558.3" cy="825.3" r="1.4" fill="#000"/>
<circle cx="560.9" cy="825.8" r="1.4" fill="#000"/>
<circle cx="563.5" cy="825.3" r="1.4" fill="#000"/>
<circle cx="571.4" cy="825.1" r="1.4" fill="#000"/>
<circle cx="579.0" cy="825.3" r="1.4" fill="#000"/>
<circle cx="584.7" cy="825.8" r="1.4" fill="#000"/>
<circle cx="534.2" cy="828.0" r="1.4" fill="#000"/>
<circle cx="540.8" cy="828.0" r="1.4" fill="#000"/>
<circle cx="543.8" cy="828.4" r="1.4" fill="#000"/>
<circle cx="546.9" cy="828.0" r="1.4" fill="#000"/>
<circle cx="550.0" cy="828.4" r="1.4" fill="#000"/>
<circle cx="553.0" cy="828.0" r="1.4" fill="#000"/>
<circle cx="556.1" cy="827.5" r="1.4" fill="#000"/>
<circle cx="559.2" cy="828.0" r="1.4" fill="#000"/>
<circle cx="561.8" cy="828.4" r="1.4" fill="#000"/>
<circle cx="565.3" cy="828.8" r="1.4" fill="#000"/>
<circle cx="576.7" cy="830.0" r="1.4" fill="#000"/>
<circle cx="535.9" cy="830.6" r="1.4" fill="#000"/>
<circle cx="541.6" cy="830.6" r="1.4" fill="#000"/>
<circle cx="544.7" cy="831.0" r="1.4" fill="#000"/>
<circle cx="547.8" cy="830.6" r="1.4" fill="#000"/>
<circle cx="550.8" cy="831.0" r="1.4" fill="#000"/>
<circle cx="553.9" cy="830.6" r="1.4" fill="#000"/>
<circle cx="557.0" cy="830.1" r="1.4" fill="#000"/>
<circle cx="560.0" cy="831.0" r="1.4" fill="#000"/>
<circle cx="562.7" cy="831.5" r="1.4" fill="#000"/>
<circle cx="565.7" cy="831.0" r="1.4" fill="#000"/>
<circle cx="570.5" cy="831.0" r="1.4" fill="#000"/>
<circle cx="531.6" cy="832.9" r="1.4" fill="#000"/>
<circle cx="536.4" cy="833.2" r="1.4" fill="#000"/>
<circle cx="540.8" cy="833.2" r="1.4" fill="#000"/>
<circle cx="543.8" cy="833.6" r="1.4" fill="#000"/>
<circle cx="546.9" cy="833.2" r="1.4" fill="#000"/>
<circle cx="550.4" cy="833.6" r="1.4" fill="#000"/>
<circle cx="553.5" cy="833.2" r="1.4" fill="#000"/>
<circle cx="556.5" cy="833.6" r="1.4" fill="#000"/>
<circle cx="559.6" cy="833.6" r="1.4" fill="#000"/>
<circle cx="562.7" cy="834.1" r="1.4" fill="#000"/>
<circle cx="565.3" cy="833.6" r="1.4" fill="#000"/>
<circle cx="568.4" cy="833.2" r="1.4" fill="#000"/>
<circle cx="571.4" cy="832.8" r="1.4" fill="#000"/>
<circle cx="575.4" cy="833.2" r="1.4" fill="#000"/>
<circle cx="533.3" cy="836.7" r="1.4" fill="#000"/>
<circle cx="538.6" cy="835.8" r="1.4" fill="#000"/>
<circle cx="541.6" cy="836.3" r="1.4" fill="#000"/>
<circle cx="544.7" cy="835.8" r="1.4" fill="#000"/>
<circle cx="547.8" cy="836.3" r="1.4" fill="#000"/>
<circle cx="550.8" cy="835.8" r="1.4" fill="#000"/>
<circle cx="553.9" cy="836.3" r="1.4" fill="#000"/>
<circle cx="557.0" cy="836.3" r="1.4" fill="#000"/>
<circle cx="560.0" cy="835.8" r="1.4" fill="#000"/>
<circle cx="563.5" cy="836.3" r="1.4" fill="#000"/>
<circle cx="566.6" cy="835.8" r="1.4" fill="#000"/>
<circle cx="569.7" cy="835.8" r="1.4" fill="#000"/>
<circle cx="572.7" cy="835.4" r="1.4" fill="#000"/>
<circle cx="576.2" cy="835.8" r="1.4" fill="#000"/>
<circle cx="583.1" cy="835.6" r="1.4" fill="#000"/>
<circle cx="539.0" cy="838.5" r="1.4" fill="#000"/>
<circle cx="542.1" cy="838.9" r="1.4" fill="#000"/>
<circle cx="545.1" cy="838.5" r="1.4" fill="#000"/>
<circle cx="548.6" cy="838.9" r="1.4" fill="#000"/>
<circle cx="551.3" cy="838.5" r="1.4" fill="#000"/>
<circle cx="554.8" cy="838.9" r="1.4" fill="#000"/>
<circle cx="557.8" cy="838.5" r="1.4" fill="#000"/>
<circle cx="560.9" cy="838.0" r="1.4" fill="#000"/>
<circle cx="564.0" cy="838.5" r="1.4" fill="#000"/>
<circle cx="568.8" cy="838.0" r="1.4" fill="#000"/>
<circle cx="572.3" cy="838.0" r="1.4" fill="#000"/>
<circle cx="575.4" cy="838.9" r="1.4" fill="#000"/>
<circle cx="539.0" cy="841.1" r="1.4" fill="#000"/>
<circle cx="542.5" cy="841.5" r="1.4" fill="#000"/>
<circle cx="546.0" cy="841.1" r="1.4" fill="#000"/>
<circle cx="549.1" cy="841.5" r="1.4" fill="#000"/>
<circle cx="553.0" cy="841.1" r="1.4" fill="#000"/>
<circle cx="555.7" cy="842.0" r="1.4" fill="#000"/>
<circle cx="560.5" cy="840.7" r="1.4" fill="#000"/>
<circle cx="561.8" cy="842.8" r="1.4" fill="#000"/>
<circle cx="532.4" cy="841.5" r="1.4" fill="#000"/>
<circle cx="531.1" cy="844.2" r="1.4" fill="#000"/>
<circle cx="525.4" cy="840.8" r="1.4" fill="#000"/>
<circle cx="543.4" cy="843.7" r="1.4" fill="#000"/>
<circle cx="546.0" cy="844.2" r="1.4" fill="#000"/>
<circle cx="548.2" cy="844.6" r="1.4" fill="#000"/>
<circle cx="544.3" cy="845.9" r="1.4" fill="#000"/>
<circle cx="547.3" cy="845.9" r="1.4" fill="#000"/>
<circle cx="552.6" cy="843.3" r="1.4" fill="#000"/>
<circle cx="567.0" cy="843.5" r="1.4" fill="#000"/>
<circle cx="604.3" cy="831.3" r="1.4" fill="#000"/>
<circle cx="594.2" cy="832.8" r="1.4" fill="#000"/>
<circle cx="598.4" cy="833.5" r="1.4" fill="#000"/>
<circle cx="590.7" cy="838.8" r="1.4" fill="#000"/>
<circle cx="598.9" cy="838.3" r="1.4" fill="#000"/>
<circle cx="605.5" cy="837.9" r="1.4" fill="#000"/>
<circle cx="511.5" cy="866.6" r="1.4" fill="#000"/>
<circle cx="526.4" cy="867.0" r="1.4" fill="#000"/>
<circle cx="518.0" cy="873.2" r="1.4" fill="#000"/>
<circle cx="502.0" cy="878.6" r="1.4" fill="#000"/>
<circle cx="520.0" cy="882.3" r="1.4" fill="#000"/>
<circle cx="522.4" cy="887.2" r="1.4" fill="#000"/>
<circle cx="525.9" cy="889.6" r="1.4" fill="#000"/>
<circle cx="532.5" cy="878.9" r="1.4" fill="#000"/>
<circle cx="533.5" cy="884.3" r="1.4" fill="#000"/>
<circle cx="538.1" cy="884.3" r="1.4" fill="#000"/>
<circle cx="544.0" cy="887.1" r="1.4" fill="#000"/>
<circle cx="541.2" cy="897.5" r="1.4" fill="#000"/>
<circle cx="547.4" cy="894.9" r="1.4" fill="#000"/>
<circle cx="550.2" cy="896.2" r="1.4" fill="#000"/>
<circle cx="554.1" cy="897.5" r="1.4" fill="#000"/>
<circle cx="552.2" cy="889.3" r="1.4" fill="#000"/>
<circle cx="552.4" cy="885.5" r="1.4" fill="#000"/>
<circle cx="550.2" cy="883.9" r="1.4" fill="#000"/>
<circle cx="551.5" cy="881.1" r="1.4" fill="#000"/>
<circle cx="534.0" cy="868.4" r="1.4" fill="#000"/>
<circle cx="536.6" cy="869.9" r="1.4" fill="#000"/>
<circle cx="538.8" cy="866.4" r="1.4" fill="#000"/>
<circle cx="540.1" cy="865.9" r="1.4" fill="#000"/>
<circle cx="540.5" cy="868.1" r="1.4" fill="#000"/>
<circle cx="540.5" cy="869.9" r="1.4" fill="#000"/>
<circle cx="537.5" cy="873.4" r="1.4" fill="#000"/>
<circle cx="538.4" cy="874.1" r="1.4" fill="#000"/>
<circle cx="539.7" cy="873.0" r="1.4" fill="#000"/>
<circle cx="541.9" cy="875.3" r="1.4" fill="#000"/>
<circle cx="545.8" cy="875.3" r="1.4" fill="#000"/>
<circle cx="545.4" cy="876.9" r="1.4" fill="#000"/>
<circle cx="544.9" cy="865.9" r="1.4" fill="#000"/>
<circle cx="546.7" cy="865.1" r="1.4" fill="#000"/>
<circle cx="548.9" cy="863.3" r="1.4" fill="#000"/>
<circle cx="551.1" cy="864.2" r="1.4" fill="#000"/>
<circle cx="553.2" cy="864.6" r="1.4" fill="#000"/>
<circle cx="554.6" cy="864.2" r="1.4" fill="#000"/>
<circle cx="545.4" cy="868.1" r="1.4" fill="#000"/>
<circle cx="547.6" cy="867.7" r="1.4" fill="#000"/>
<circle cx="549.7" cy="867.3" r="1.4" fill="#000"/>
<circle cx="551.9" cy="867.7" r="1.4" fill="#000"/>
<circle cx="554.1" cy="867.3" r="1.4" fill="#000"/>
<circle cx="545.8" cy="870.3" r="1.4" fill="#000"/>
<circle cx="548.0" cy="870.3" r="1.4" fill="#000"/>
<circle cx="550.2" cy="869.9" r="1.4" fill="#000"/>
<circle cx="552.4" cy="870.3" r="1.4" fill="#000"/>
<circle cx="554.6" cy="869.9" r="1.4" fill="#000"/>
<circle cx="546.2" cy="872.5" r="1.4" fill="#000"/>
<circle cx="548.9" cy="872.5" r="1.4" fill="#000"/>
<circle cx="551.1" cy="872.1" r="1.4" fill="#000"/>
<circle cx="553.2" cy="872.5" r="1.4" fill="#000"/>
<circle cx="555.0" cy="872.1" r="1.4" fill="#000"/>
<circle cx="550.2" cy="875.6" r="1.4" fill="#000"/>
<circle cx="552.4" cy="874.7" r="1.4" fill="#000"/>
<circle cx="554.6" cy="875.1" r="1.4" fill="#000"/>
<circle cx="551.9" cy="877.8" r="1.4" fill="#000"/>
<circle cx="554.1" cy="876.9" r="1.4" fill="#000"/>
<circle cx="495.4" cy="899.7" r="1.4" fill="#000"/>
<circle cx="583.1" cy="865.8" r="1.4" fill="#000"/>
<circle cx="575.0" cy="869.0" r="1.4" fill="#000"/>
<circle cx="582.0" cy="873.6" r="1.4" fill="#000"/>
<circle cx="597.3" cy="873.4" r="1.4" fill="#000"/>
<circle cx="607.8" cy="876.3" r="1.4" fill="#000"/>
<circle cx="580.7" cy="878.0" r="1.4" fill="#000"/>
<circle cx="585.0" cy="878.5" r="1.4" fill="#000"/>
<circle cx="582.8" cy="880.6" r="1.4" fill="#000"/>
<circle cx="595.4" cy="880.8" r="1.4" fill="#000"/>
<circle cx="601.1" cy="880.8" r="1.4" fill="#000"/>
<circle cx="601.1" cy="887.1" r="1.4" fill="#000"/>
<circle cx="586.8" cy="885.2" r="1.4" fill="#000"/>
<circle cx="587.8" cy="885.7" r="1.4" fill="#000"/>
<circle cx="584.8" cy="888.3" r="1.4" fill="#000"/>
<circle cx="588.7" cy="890.3" r="1.4" fill="#000"/>
<circle cx="577.6" cy="886.1" r="1.4" fill="#000"/>
<circle cx="576.3" cy="883.0" r="1.4" fill="#000"/>
<circle cx="561.4" cy="888.7" r="1.4" fill="#000"/>
<circle cx="568.4" cy="886.5" r="1.4" fill="#000"/>
<circle cx="567.1" cy="885.2" r="1.4" fill="#000"/>
<circle cx="568.4" cy="888.7" r="1.4" fill="#000"/>
<circle cx="571.9" cy="888.7" r="1.4" fill="#000"/>
<circle cx="573.6" cy="889.6" r="1.4" fill="#000"/>
<circle cx="569.3" cy="892.8" r="1.4" fill="#000"/>
<circle cx="572.3" cy="895.7" r="1.4" fill="#000"/>
<circle cx="567.1" cy="897.9" r="1.4" fill="#000"/>
<circle cx="577.6" cy="898.8" r="1.4" fill="#000"/>
<circle cx="557.4" cy="864.2" r="1.4" fill="#000"/>
<circle cx="563.1" cy="865.1" r="1.4" fill="#000"/>
<circle cx="570.1" cy="866.8" r="1.4" fill="#000"/>
<circle cx="558.8" cy="867.3" r="1.4" fill="#000"/>
<circle cx="562.7" cy="867.3" r="1.4" fill="#000"/>
<circle cx="568.8" cy="868.6" r="1.4" fill="#000"/>
<circle cx="571.0" cy="869.5" r="1.4" fill="#000"/>
<circle cx="558.3" cy="869.5" r="1.4" fill="#000"/>
<circle cx="563.6" cy="869.5" r="1.4" fill="#000"/>
<circle cx="569.3" cy="871.2" r="1.4" fill="#000"/>
<circle cx="572.3" cy="872.1" r="1.4" fill="#000"/>
<circle cx="559.6" cy="872.5" r="1.4" fill="#000"/>
<circle cx="564.5" cy="872.1" r="1.4" fill="#000"/>
<circle cx="567.5" cy="873.4" r="1.4" fill="#000"/>
<circle cx="570.6" cy="873.8" r="1.4" fill="#000"/>
<circle cx="573.6" cy="873.4" r="1.4" fill="#000"/>
<circle cx="576.3" cy="874.7" r="1.4" fill="#000"/>
<circle cx="557.9" cy="876.5" r="1.4" fill="#000"/>
<circle cx="561.4" cy="875.1" r="1.4" fill="#000"/>
<circle cx="566.2" cy="875.1" r="1.4" fill="#000"/>
<circle cx="568.8" cy="876.0" r="1.4" fill="#000"/>
<circle cx="571.9" cy="876.0" r="1.4" fill="#000"/>
<circle cx="574.5" cy="876.5" r="1.4" fill="#000"/>
<circle cx="564.0" cy="877.8" r="1.4" fill="#000"/>
<circle cx="567.1" cy="878.2" r="1.4" fill="#000"/>
<circle cx="571.0" cy="878.6" r="1.4" fill="#000"/>
<circle cx="574.1" cy="878.6" r="1.4" fill="#000"/>
<circle cx="575.8" cy="878.2" r="1.4" fill="#000"/>
<circle cx="561.4" cy="880.8" r="1.4" fill="#000"/>
<circle cx="564.0" cy="880.4" r="1.4" fill="#000"/>
<circle cx="567.5" cy="880.8" r="1.4" fill="#000"/>
<circle cx="570.6" cy="881.3" r="1.4" fill="#000"/>
<circle cx="573.2" cy="882.2" r="1.4" fill="#000"/>
<circle cx="569.7" cy="883.0" r="1.4" fill="#000"/>
<circle cx="571.9" cy="883.9" r="1.4" fill="#000"/>
<circle cx="574.5" cy="884.8" r="1.4" fill="#000"/>
<circle cx="577.2" cy="884.3" r="1.4" fill="#000"/>
<circle cx="552.3" cy="902.6" r="1.4" fill="#000"/>
<circle cx="578.5" cy="902.6" r="1.4" fill="#000"/>
<circle cx="573.7" cy="918.0" r="1.4" fill="#000"/>
<circle cx="576.4" cy="885.8" r="1.4" fill="#000"/>
<circle cx="573.4" cy="884.4" r="1.4" fill="#000"/>
<circle cx="613.2" cy="787.1" r="1.4" fill="#000"/>
<circle cx="497.0" cy="828.2" r="1.4" fill="#000"/>
<circle cx="518.0" cy="833.0" r="1.4" fill="#000"/>
<circle cx="544.5" cy="797.8" r="1.3" fill="#0000d0"/>
<circle cx="439.9" cy="871.0" r="1.3" fill="#e00000"/>
<circle cx="619.3" cy="882.1" r="1.3" fill="#e00000"/>
<text class="g" x="443.2" y="872.6" style="text-anchor:start">PEG10</text>
<text class="g" x="623.4" y="883.5" style="text-anchor:start">EGFL6</text>
<text class="g" x="548.2" y="799.1" style="text-anchor:start">KIAA1217</text>
<rect class="fr" x="438.00" y="748.00" width="232.60" height="211.60"/>
<line class="tk" x1="461.89" y1="959.60" x2="461.89" y2="962.90"/>
<text class="ax" x="461.89" y="972.20">−3</text>
<line class="tk" x1="492.61" y1="959.60" x2="492.61" y2="962.90"/>
<text class="ax" x="492.61" y="972.20">−2</text>
<line class="tk" x1="523.33" y1="959.60" x2="523.33" y2="962.90"/>
<text class="ax" x="523.33" y="972.20">−1</text>
<line class="tk" x1="554.05" y1="959.60" x2="554.05" y2="962.90"/>
<text class="ax" x="554.05" y="972.20">0</text>
<line class="tk" x1="584.77" y1="959.60" x2="584.77" y2="962.90"/>
<text class="ax" x="584.77" y="972.20">1</text>
<line class="tk" x1="615.49" y1="959.60" x2="615.49" y2="962.90"/>
<text class="ax" x="615.49" y="972.20">2</text>
<line class="tk" x1="646.21" y1="959.60" x2="646.21" y2="962.90"/>
<text class="ax" x="646.21" y="972.20">3</text>
<line class="tk" x1="438.00" y1="931.96" x2="434.50" y2="931.96"/>
<text class="ax" transform="translate(429.60,932.46) rotate(-90)">−0.4</text>
<line class="tk" x1="438.00" y1="892.78" x2="434.50" y2="892.78"/>
<text class="ax" transform="translate(429.60,893.28) rotate(-90)">−0.2</text>
<line class="tk" x1="438.00" y1="853.60" x2="434.50" y2="853.60"/>
<text class="ax" transform="translate(429.60,854.10) rotate(-90)">0.0</text>
<line class="tk" x1="438.00" y1="814.42" x2="434.50" y2="814.42"/>
<text class="ax" transform="translate(429.60,814.92) rotate(-90)">0.2</text>
<line class="tk" x1="438.00" y1="775.24" x2="434.50" y2="775.24"/>
<text class="ax" transform="translate(429.60,775.74) rotate(-90)">0.4</text>
<text class="ax" x="554.05" y="986.10">log2FC in Accreta</text>
<text class="ax" transform="translate(415.50,854.10) rotate(-90)">log2FC in Preeclampsia</text>
</g>
</svg></body></html>
